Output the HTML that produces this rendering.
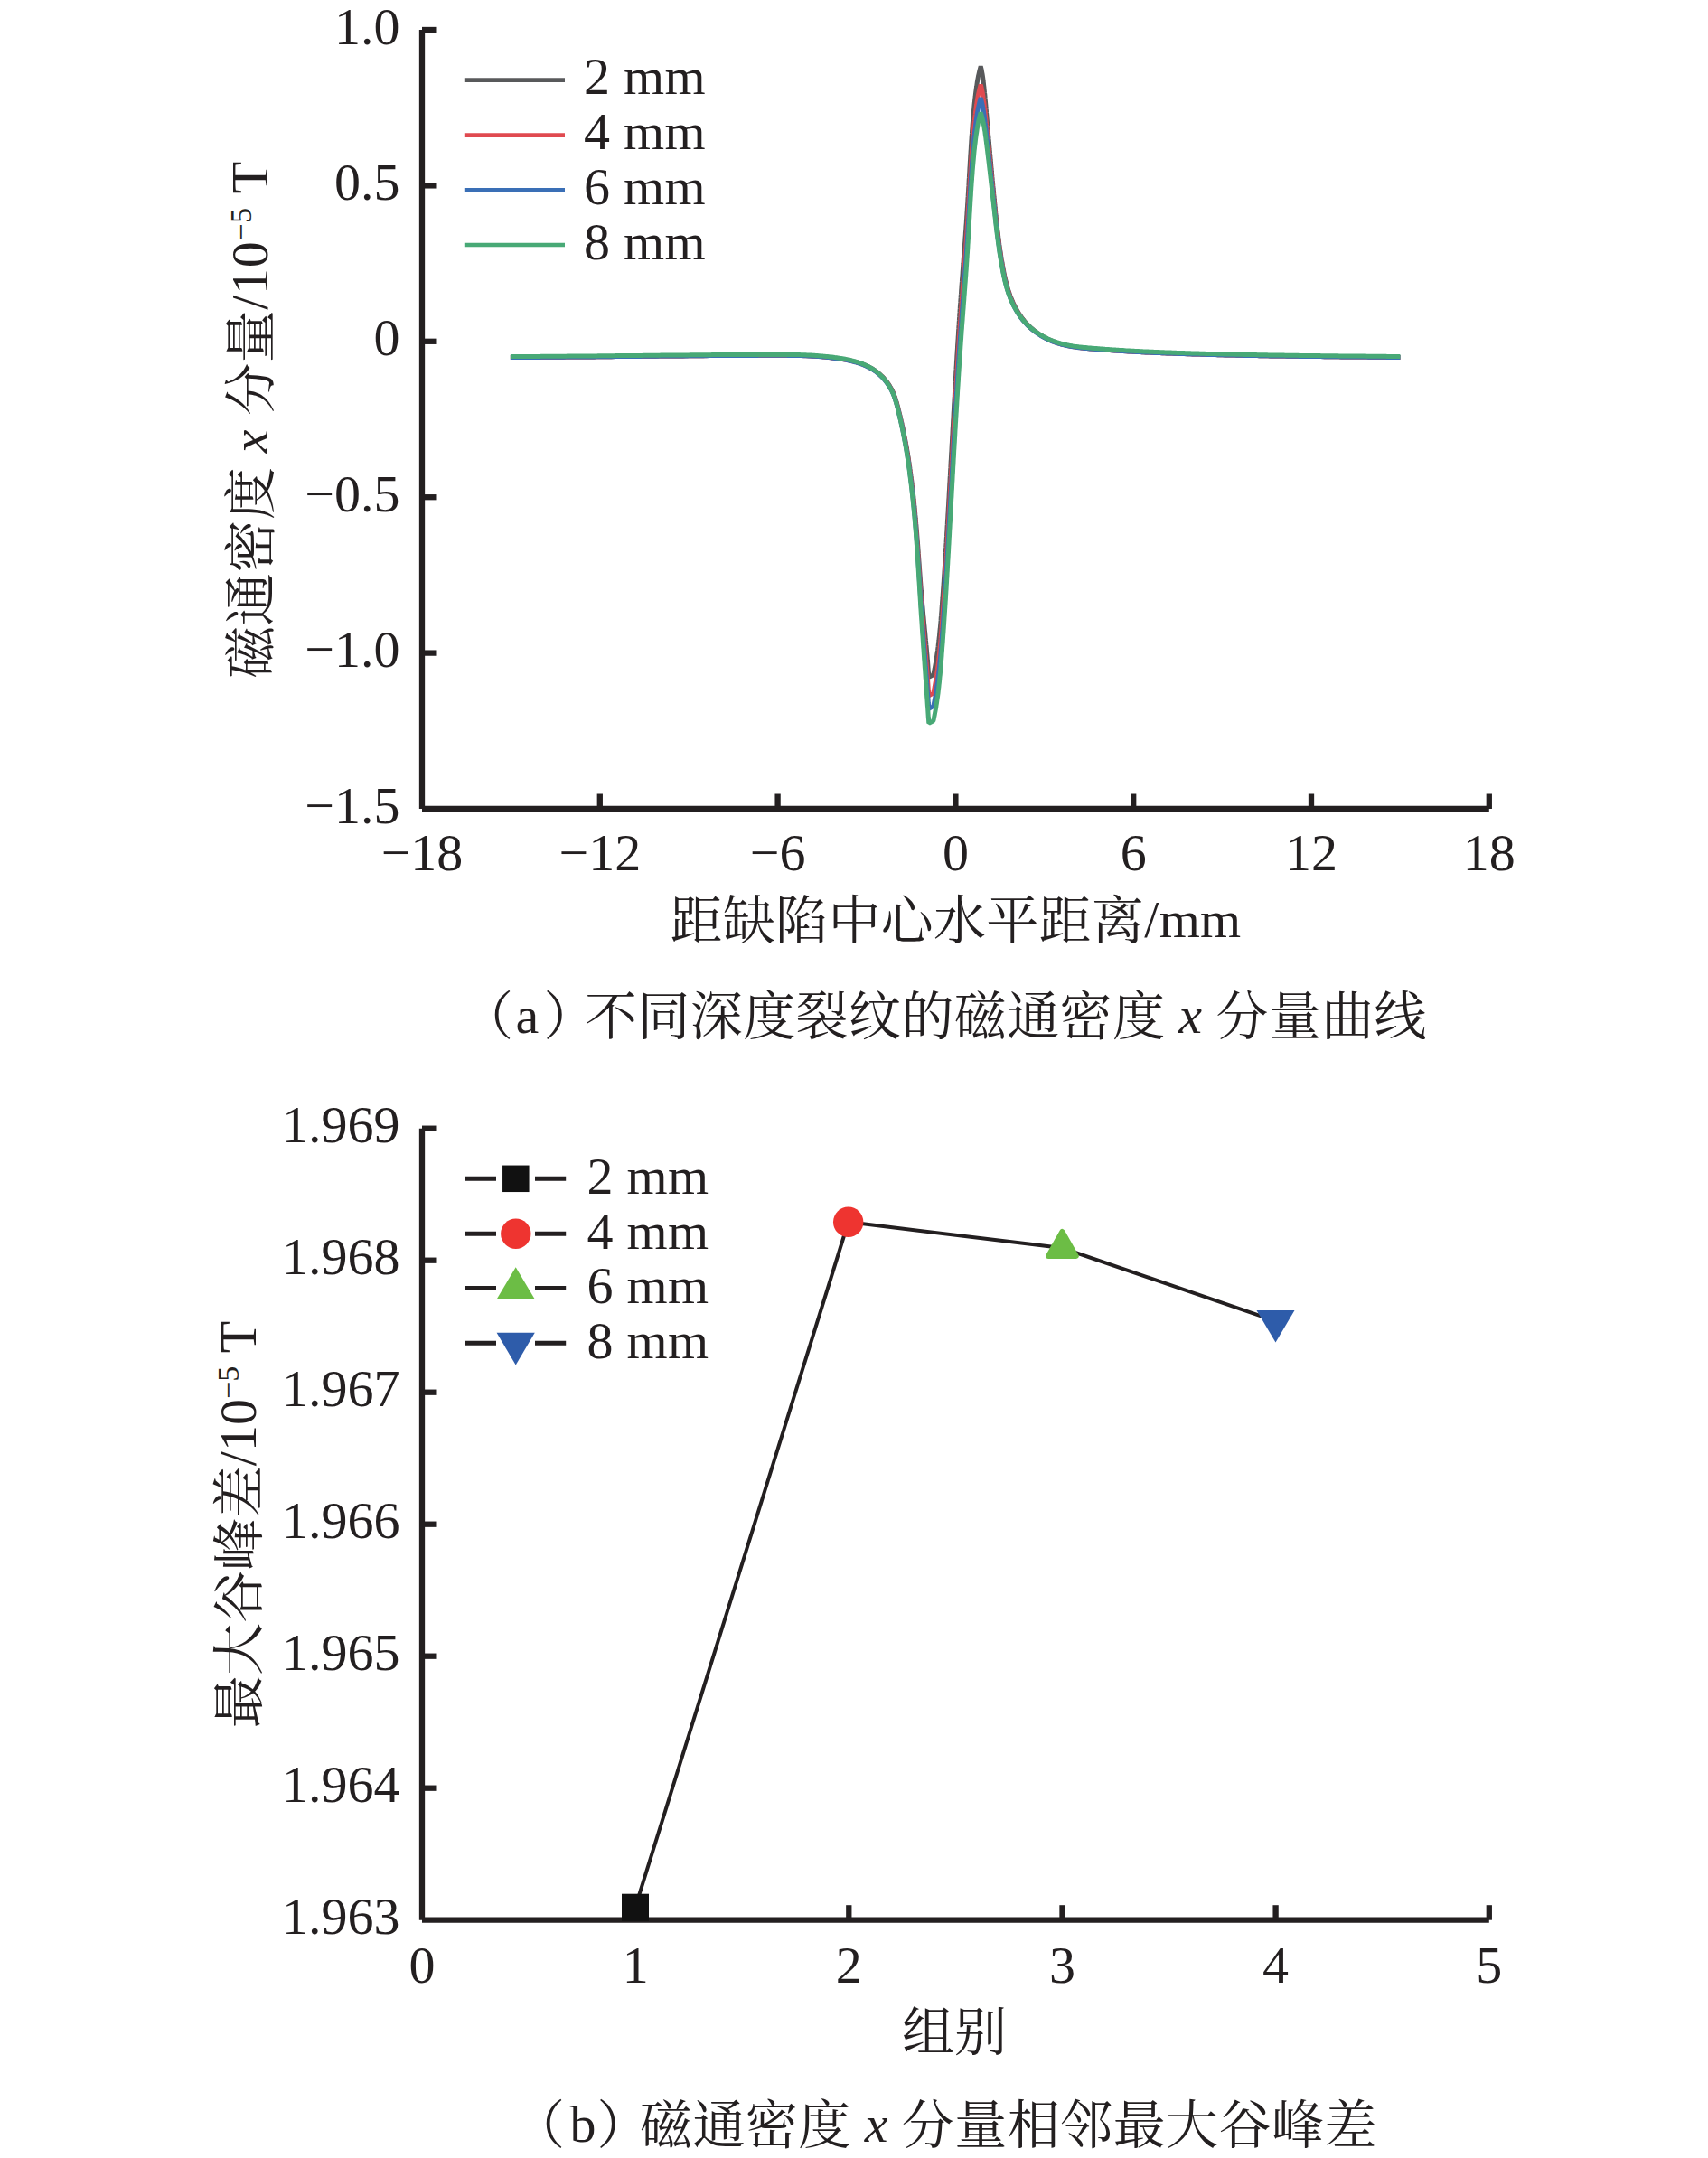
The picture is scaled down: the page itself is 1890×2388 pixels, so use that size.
<!DOCTYPE html>
<html lang="zh"><head><meta charset="utf-8"><title>figure</title><style>html,body{margin:0;padding:0;background:#fff}</style></head><body>
<svg width="1890" height="2388" viewBox="0 0 1890 2388" style="display:block;font-family:'Liberation Serif','Noto Serif CJK SC',serif;font-size:58px" fill="#231f20">
<rect width="1890" height="2388" fill="#fff"/>
<g stroke="#231f20" stroke-width="6.3" fill="none">
<path d="M467.0,33.0 V895.0 M467.0,895.0 H1647.8"/>
<path d="M467.0,33.0 H483.5"/>
<path d="M467.0,205.4 H483.5"/>
<path d="M467.0,377.8 H483.5"/>
<path d="M467.0,550.2 H483.5"/>
<path d="M467.0,722.6 H483.5"/>
<path d="M663.8,895.0 V878.5"/>
<path d="M860.6,895.0 V878.5"/>
<path d="M1057.4,895.0 V878.5"/>
<path d="M1254.2,895.0 V878.5"/>
<path d="M1451.0,895.0 V878.5"/>
<path d="M1647.8,895.0 V878.5"/>
</g>
<g fill="none" stroke-width="5" stroke-linejoin="bevel">
<polyline stroke="#58595b" points="564.9,395.5 566.5,395.5 568.1,395.5 569.7,395.5 571.4,395.5 573.0,395.5 574.6,395.4 576.2,395.4 577.8,395.4 579.4,395.4 581.1,395.4 582.7,395.4 584.3,395.4 585.9,395.4 587.5,395.4 589.1,395.4 590.7,395.4 592.4,395.4 594.0,395.4 595.6,395.3 597.2,395.3 598.8,395.3 600.4,395.3 602.1,395.3 603.7,395.3 605.3,395.3 606.9,395.3 608.5,395.3 610.1,395.3 611.8,395.2 613.4,395.2 615.0,395.2 616.6,395.2 618.2,395.2 619.8,395.2 621.5,395.2 623.1,395.2 624.7,395.1 626.3,395.1 627.9,395.1 629.5,395.1 631.2,395.1 632.8,395.1 634.4,395.1 636.0,395.0 637.6,395.0 639.2,395.0 640.9,395.0 642.5,395.0 644.1,395.0 645.7,395.0 647.3,394.9 648.9,394.9 650.6,394.9 652.2,394.9 653.8,394.9 655.4,394.9 657.0,394.9 658.7,394.8 660.3,394.8 661.9,394.8 663.5,394.8 665.1,394.8 666.7,394.8 668.4,394.7 670.0,394.7 671.6,394.7 673.2,394.7 674.8,394.7 676.4,394.7 678.1,394.6 679.7,394.6 681.3,394.6 682.9,394.6 684.5,394.6 686.2,394.6 687.8,394.5 689.4,394.5 691.0,394.5 692.6,394.5 694.2,394.5 695.9,394.5 697.5,394.4 699.1,394.4 700.7,394.4 702.3,394.4 703.9,394.4 705.6,394.4 707.2,394.3 708.8,394.3 710.4,394.3 712.0,394.3 713.7,394.3 715.3,394.3 716.9,394.2 718.5,394.2 720.1,394.2 721.7,394.2 723.4,394.2 725.0,394.2 726.6,394.1 728.2,394.1 729.8,394.1 731.4,394.1 733.1,394.1 734.7,394.1 736.3,394.0 737.9,394.0 739.5,394.0 741.2,394.0 742.8,394.0 744.4,394.0 746.0,393.9 747.6,393.9 749.2,393.9 750.9,393.9 752.5,393.9 754.1,393.9 755.7,393.9 757.3,393.8 758.9,393.8 760.6,393.8 762.2,393.8 763.8,393.8 765.4,393.8 767.0,393.8 768.6,393.7 770.3,393.7 771.9,393.7 773.5,393.7 775.1,393.7 776.7,393.7 778.3,393.7 780.0,393.6 781.6,393.6 783.2,393.6 784.8,393.6 786.4,393.6 788.0,393.6 789.7,393.6 791.3,393.6 792.9,393.5 794.5,393.5 796.1,393.5 797.7,393.5 799.4,393.5 801.0,393.5 802.6,393.5 804.2,393.5 805.8,393.4 807.4,393.4 809.0,393.4 810.7,393.4 812.3,393.4 813.9,393.4 815.5,393.4 817.1,393.4 818.7,393.4 820.4,393.4 822.0,393.3 823.6,393.3 825.2,393.3 826.8,393.3 828.4,393.3 830.0,393.3 831.7,393.3 833.3,393.3 834.9,393.3 836.5,393.3 838.1,393.3 839.7,393.3 841.3,393.3 843.0,393.3 844.6,393.3 846.2,393.2 847.8,393.2 849.4,393.2 851.0,393.2 852.6,393.2 854.3,393.2 855.9,393.2 857.5,393.2 859.1,393.2 860.7,393.2 862.3,393.2 863.9,393.2 865.5,393.2 867.2,393.2 868.8,393.2 870.4,393.2 872.0,393.2 873.6,393.3 875.2,393.3 876.8,393.3 878.5,393.3 880.1,393.3 881.7,393.4 883.3,393.4 884.9,393.4 886.5,393.5 888.1,393.5 889.8,393.6 891.4,393.6 893.0,393.7 894.6,393.7 896.2,393.8 897.8,393.9 899.4,394.0 901.1,394.1 902.7,394.2 904.3,394.3 905.9,394.4 907.5,394.5 909.2,394.6 910.8,394.8 912.4,394.9 914.0,395.0 915.6,395.2 917.3,395.4 918.9,395.5 920.5,395.7 922.1,395.9 923.7,396.1 925.4,396.3 927.0,396.5 928.6,396.8 930.2,397.0 931.9,397.3 933.5,397.5 935.1,397.8 936.7,398.1 938.3,398.4 939.9,398.8 941.5,399.1 943.1,399.5 944.6,399.9 946.2,400.3 947.7,400.7 949.3,401.2 950.8,401.6 952.3,402.2 953.8,402.7 955.3,403.2 956.8,403.8 958.2,404.4 959.6,405.1 961.1,405.8 962.4,406.5 963.8,407.2 965.2,408.0 966.5,408.8 967.8,409.7 969.1,410.5 970.4,411.5 971.6,412.4 972.8,413.4 974.0,414.4 975.1,415.5 976.3,416.6 977.4,417.7 978.4,418.9 979.4,420.1 980.4,421.3 981.4,422.5 982.3,423.8 983.2,425.0 984.1,426.3 984.9,427.7 985.7,429.0 986.5,430.4 987.2,431.8 987.8,433.2 988.5,434.6 989.1,436.0 989.6,437.5 990.2,438.9 990.7,440.4 991.1,441.9 991.6,443.3 992.0,444.8 992.5,446.3 992.9,447.8 993.3,449.3 993.7,450.8 994.0,452.3 994.4,453.9 994.8,455.4 995.2,456.9 995.6,458.4 995.9,459.9 996.3,461.4 996.6,462.8 997.0,464.3 997.3,465.8 997.7,467.3 998.0,468.8 998.3,470.3 998.7,471.8 999.0,473.3 999.3,474.8 999.6,476.3 999.9,477.8 1000.2,479.3 1000.5,480.8 1000.8,482.3 1001.1,483.7 1001.4,485.2 1001.7,486.7 1002.0,488.2 1002.3,489.7 1002.5,491.2 1002.8,492.6 1003.1,494.1 1003.3,495.6 1003.6,497.1 1003.8,498.6 1004.1,500.0 1004.3,501.5 1004.6,503.0 1004.8,504.5 1005.1,505.9 1005.3,507.4 1005.5,508.9 1005.7,510.4 1006.0,511.8 1006.2,513.3 1006.4,514.8 1006.6,516.2 1006.8,517.7 1007.0,519.2 1007.2,520.6 1007.4,522.1 1007.6,523.5 1007.8,525.0 1008.0,526.5 1008.2,527.9 1008.4,529.4 1008.6,530.8 1008.8,532.3 1009.0,533.8 1009.1,535.2 1009.3,536.7 1009.5,538.1 1009.7,539.6 1009.8,541.0 1010.0,542.5 1010.2,543.9 1010.3,545.4 1010.5,546.8 1010.7,548.3 1010.8,549.7 1011.0,551.1 1011.1,552.6 1011.3,554.0 1011.4,555.5 1011.6,556.9 1011.7,558.3 1011.9,559.8 1012.0,561.2 1012.2,562.7 1012.3,564.1 1012.4,565.5 1012.6,567.0 1012.7,568.4 1012.8,569.8 1013.0,571.3 1013.1,572.7 1013.2,574.1 1013.4,575.5 1013.5,577.0 1013.6,578.4 1013.7,579.8 1013.9,581.2 1014.0,582.7 1014.1,584.1 1014.2,585.5 1014.3,586.9 1014.5,588.3 1014.6,589.8 1014.7,591.2 1014.8,592.6 1014.9,594.0 1015.0,595.4 1015.1,596.8 1015.2,598.2 1015.4,599.6 1015.5,601.1 1015.6,602.5 1015.7,603.9 1015.8,605.3 1015.9,606.7 1016.0,608.1 1016.1,609.5 1016.2,610.9 1016.3,612.3 1016.4,613.6 1016.5,615.0 1016.6,616.4 1016.7,617.8 1016.8,619.2 1016.9,620.6 1017.0,622.0 1017.1,623.3 1017.2,624.7 1017.3,626.1 1017.4,627.5 1017.5,628.8 1017.6,630.2 1017.7,631.5 1017.8,632.9 1017.9,634.3 1018.0,635.6 1018.1,637.0 1018.2,638.3 1018.3,639.6 1018.4,641.0 1018.5,642.3 1018.6,643.6 1018.7,645.0 1018.8,646.3 1018.9,647.6 1019.0,648.9 1019.1,650.2 1019.2,651.5 1019.3,652.8 1019.4,654.1 1019.6,655.4 1019.7,656.7 1019.8,658.0 1019.9,659.2 1020.0,660.5 1020.1,661.8 1020.2,663.0 1020.3,664.3 1020.4,665.5 1020.5,666.8 1020.6,668.0 1020.7,669.3 1020.8,670.5 1021.0,671.7 1021.1,672.9 1021.2,674.2 1021.3,675.4 1021.4,676.6 1021.5,677.8 1021.6,679.0 1021.7,680.2 1021.8,681.4 1022.0,682.6 1022.1,683.8 1022.2,685.0 1022.3,686.2 1022.4,687.3 1022.5,688.5 1022.6,689.7 1022.7,690.9 1022.9,692.1 1023.0,693.3 1023.1,694.4 1023.2,695.6 1023.3,696.8 1023.4,698.0 1023.6,699.2 1023.7,700.4 1023.8,701.6 1023.9,702.8 1024.0,704.0 1024.1,705.2 1024.2,706.4 1024.4,707.6 1024.5,708.9 1024.6,710.1 1024.7,711.3 1024.8,712.6 1024.9,713.8 1025.1,715.1 1025.2,716.4 1025.3,717.7 1025.4,719.0 1025.5,720.3 1025.6,721.6 1025.7,722.9 1025.9,724.3 1026.0,725.6 1026.1,727.0 1026.2,728.4 1026.3,729.8 1026.4,731.2 1026.6,732.6 1026.7,734.1 1026.8,735.5 1026.9,737.0 1027.0,738.5 1027.1,740.0 1027.2,741.5 1027.3,743.1 1027.5,744.6 1027.6,746.2 1027.7,747.8 1027.8,749.4 1032.8,746.8 1033.3,744.6 1033.7,742.4 1034.2,740.1 1034.6,737.9 1035.0,735.7 1035.4,733.5 1035.8,731.2 1036.1,729.0 1036.5,726.8 1036.8,724.5 1037.1,722.3 1037.5,720.1 1037.8,717.8 1038.1,715.6 1038.3,713.4 1038.6,711.1 1038.9,708.9 1039.1,706.6 1039.4,704.4 1039.6,702.1 1039.8,699.9 1040.0,697.6 1040.3,695.4 1040.5,693.1 1040.7,690.9 1040.9,688.6 1041.1,686.4 1041.2,684.1 1041.4,681.9 1041.6,679.6 1041.8,677.4 1042.0,675.1 1042.1,672.8 1042.3,670.6 1042.5,668.3 1042.6,666.1 1042.8,663.8 1043.0,661.6 1043.2,659.3 1043.3,657.1 1043.5,654.8 1043.6,652.6 1043.8,650.3 1044.0,648.0 1044.1,645.8 1044.3,643.5 1044.4,641.3 1044.6,639.0 1044.7,636.8 1044.9,634.5 1045.0,632.3 1045.2,630.0 1045.3,627.7 1045.5,625.5 1045.6,623.2 1045.8,621.0 1045.9,618.7 1046.1,616.5 1046.2,614.2 1046.4,611.9 1046.5,609.7 1046.6,607.4 1046.8,605.2 1046.9,602.9 1047.1,600.7 1047.2,598.4 1047.3,596.2 1047.5,593.9 1047.6,591.6 1047.7,589.4 1047.9,587.1 1048.0,584.9 1048.1,582.6 1048.3,580.4 1048.4,578.1 1048.5,575.8 1048.7,573.6 1048.8,571.3 1048.9,569.1 1049.1,566.8 1049.2,564.6 1049.3,562.3 1049.5,560.1 1049.6,557.8 1049.7,555.5 1049.8,553.3 1050.0,551.0 1050.1,548.8 1050.2,546.5 1050.3,544.3 1050.5,542.0 1050.6,539.7 1050.7,537.5 1050.8,535.2 1051.0,533.0 1051.1,530.7 1051.2,528.5 1051.4,526.2 1051.5,523.9 1051.6,521.7 1051.7,519.4 1051.9,517.2 1052.0,514.9 1052.1,512.7 1052.2,510.4 1052.4,508.1 1052.5,505.9 1052.6,503.6 1052.7,501.4 1052.9,499.1 1053.0,496.9 1053.1,494.6 1053.2,492.3 1053.4,490.1 1053.5,487.8 1053.6,485.6 1053.7,483.3 1053.9,481.1 1054.0,478.8 1054.1,476.6 1054.2,474.3 1054.4,472.0 1054.5,469.8 1054.6,467.5 1054.7,465.3 1054.9,463.0 1055.0,460.8 1055.1,458.5 1055.2,456.2 1055.4,454.0 1055.5,451.7 1055.6,449.5 1055.7,447.2 1055.9,445.0 1056.0,442.7 1056.1,440.4 1056.3,438.2 1056.4,435.9 1056.5,433.7 1056.7,431.4 1056.8,429.2 1056.9,426.9 1057.0,424.6 1057.2,422.4 1057.3,420.1 1057.4,417.9 1057.6,415.6 1057.7,413.4 1057.8,411.1 1058.0,408.9 1058.1,406.6 1058.3,404.3 1058.4,402.1 1058.5,399.8 1058.7,397.6 1058.8,395.3 1058.9,393.1 1059.1,390.8 1059.2,388.5 1059.4,386.3 1059.5,384.0 1059.6,381.8 1059.8,379.5 1059.9,377.3 1060.1,375.0 1060.2,372.8 1060.4,370.5 1060.5,368.2 1060.6,366.0 1060.8,363.7 1060.9,361.5 1061.1,359.2 1061.2,357.0 1061.4,354.7 1061.5,352.5 1061.7,350.2 1061.8,347.9 1062.0,345.7 1062.1,343.4 1062.3,341.2 1062.4,338.9 1062.6,336.7 1062.8,334.4 1062.9,332.2 1063.1,329.9 1063.2,327.6 1063.4,325.4 1063.6,323.1 1063.7,320.9 1063.9,318.6 1064.0,316.4 1064.2,314.1 1064.4,311.9 1064.5,309.6 1064.7,307.4 1064.9,305.1 1065.1,302.8 1065.2,300.6 1065.4,298.3 1065.6,296.1 1065.7,293.8 1065.9,291.6 1066.1,289.3 1066.2,287.1 1066.4,284.8 1066.6,282.6 1066.8,280.3 1066.9,278.0 1067.1,275.8 1067.3,273.5 1067.4,271.3 1067.6,269.0 1067.8,266.8 1067.9,264.5 1068.1,262.3 1068.3,260.0 1068.4,257.8 1068.6,255.5 1068.8,253.3 1068.9,251.0 1069.1,248.7 1069.3,246.5 1069.4,244.2 1069.6,242.0 1069.7,239.7 1069.9,237.5 1070.0,235.2 1070.2,233.0 1070.3,230.7 1070.5,228.5 1070.6,226.2 1070.8,223.9 1070.9,221.7 1071.0,219.4 1071.2,217.2 1071.3,214.9 1071.5,212.7 1071.6,210.4 1071.7,208.2 1071.9,205.9 1072.0,203.6 1072.1,201.4 1072.2,199.1 1072.4,196.9 1072.5,194.6 1072.6,192.4 1072.8,190.1 1072.9,187.8 1073.0,185.6 1073.2,183.3 1073.3,181.1 1073.4,178.8 1073.6,176.6 1073.7,174.3 1073.8,172.1 1074.0,169.8 1074.1,167.5 1074.3,165.3 1074.4,163.0 1074.5,160.8 1074.7,158.5 1074.8,156.3 1075.0,154.0 1075.1,151.7 1075.3,149.5 1075.5,147.2 1075.6,145.0 1075.8,142.7 1076.0,140.5 1076.1,138.2 1076.3,136.0 1076.5,133.7 1076.7,131.4 1076.9,129.2 1077.1,126.9 1077.3,124.7 1077.5,122.4 1077.7,120.2 1077.9,117.9 1078.1,115.7 1078.4,113.4 1078.6,111.2 1078.9,108.9 1079.2,106.7 1079.4,104.5 1079.7,102.2 1080.0,100.0 1080.3,97.7 1080.7,95.5 1081.0,93.3 1081.3,91.0 1081.7,88.8 1082.1,86.6 1082.5,84.4 1083.0,82.2 1083.5,80.0 1084.0,77.8 1084.6,75.6 1085.2,73.4 1085.6,74.8 1086.0,76.3 1086.3,78.0 1086.6,79.8 1087.0,81.7 1087.3,83.7 1087.6,85.7 1087.9,87.8 1088.1,89.9 1088.4,92.1 1088.6,94.2 1088.9,96.3 1089.1,98.4 1089.3,100.5 1089.5,102.6 1089.8,104.7 1090.0,106.7 1090.1,108.7 1090.3,110.7 1090.5,112.7 1090.7,114.7 1090.9,116.7 1091.0,118.6 1091.2,120.6 1091.4,122.5 1091.5,124.4 1091.7,126.3 1091.9,128.2 1092.0,130.1 1092.2,132.0 1092.4,133.9 1092.5,135.8 1092.7,137.7 1092.8,139.5 1093.0,141.4 1093.2,143.2 1093.3,145.0 1093.5,146.9 1093.6,148.7 1093.8,150.5 1094.0,152.3 1094.1,154.0 1094.3,155.8 1094.4,157.6 1094.6,159.3 1094.7,161.1 1094.9,162.8 1095.0,164.6 1095.2,166.3 1095.4,168.0 1095.5,169.7 1095.7,171.4 1095.8,173.1 1096.0,174.8 1096.1,176.4 1096.3,178.1 1096.4,179.8 1096.6,181.4 1096.7,183.1 1096.9,184.7 1097.0,186.3 1097.2,188.0 1097.3,189.6 1097.5,191.2 1097.6,192.8 1097.8,194.4 1097.9,196.0 1098.1,197.6 1098.2,199.2 1098.4,200.8 1098.5,202.3 1098.7,203.9 1098.8,205.5 1099.0,207.0 1099.1,208.6 1099.3,210.1 1099.4,211.7 1099.6,213.2 1099.7,214.7 1099.9,216.3 1100.0,217.8 1100.2,219.3 1100.3,220.8 1100.5,222.4 1100.6,223.9 1100.8,225.4 1100.9,226.9 1101.1,228.4 1101.2,229.9 1101.4,231.4 1101.5,232.9 1101.7,234.4 1101.8,235.8 1102.0,237.3 1102.1,238.8 1102.3,240.3 1102.4,241.8 1102.6,243.3 1102.8,244.7 1102.9,246.2 1103.1,247.7 1103.2,249.1 1103.4,250.6 1103.6,252.1 1103.7,253.5 1103.9,255.0 1104.1,256.5 1104.3,257.9 1104.4,259.4 1104.6,260.8 1104.8,262.3 1105.0,263.7 1105.2,265.2 1105.4,266.6 1105.5,268.1 1105.7,269.5 1105.9,271.0 1106.1,272.4 1106.3,273.8 1106.5,275.3 1106.7,276.7 1107.0,278.2 1107.2,279.6 1107.4,281.0 1107.6,282.5 1107.8,283.9 1108.1,285.3 1108.3,286.8 1108.5,288.2 1108.8,289.6 1109.0,291.0 1109.3,292.5 1109.5,293.9 1109.8,295.3 1110.0,296.7 1110.3,298.1 1110.6,299.5 1110.8,301.0 1111.1,302.4 1111.4,303.8 1111.7,305.2 1112.0,306.6 1112.3,308.0 1112.6,309.4 1113.0,310.8 1113.3,312.2 1113.7,313.6 1114.0,315.0 1114.4,316.4 1114.8,317.7 1115.2,319.1 1115.6,320.5 1116.0,321.9 1116.5,323.2 1117.0,324.6 1117.4,325.9 1117.9,327.3 1118.4,328.6 1119.0,330.0 1119.5,331.3 1120.1,332.6 1120.6,333.9 1121.2,335.2 1121.8,336.5 1122.4,337.8 1123.1,339.0 1123.7,340.3 1124.4,341.5 1125.1,342.7 1125.8,344.0 1126.5,345.2 1127.2,346.3 1128.0,347.5 1128.7,348.7 1129.5,349.8 1130.3,350.9 1131.1,352.0 1132.0,353.1 1132.8,354.2 1133.7,355.3 1134.6,356.3 1135.5,357.3 1136.4,358.3 1137.3,359.3 1138.3,360.3 1139.3,361.2 1140.2,362.1 1141.2,363.0 1142.3,363.9 1143.3,364.8 1144.3,365.6 1145.4,366.5 1146.5,367.3 1147.6,368.1 1148.7,368.8 1149.8,369.6 1150.9,370.3 1152.0,371.0 1153.2,371.7 1154.4,372.4 1155.5,373.1 1156.7,373.7 1157.9,374.3 1159.1,374.9 1160.3,375.5 1161.5,376.1 1162.7,376.6 1164.0,377.1 1165.2,377.6 1166.4,378.1 1167.7,378.6 1169.0,379.0 1170.2,379.4 1171.5,379.8 1172.8,380.2 1174.0,380.6 1175.3,381.0 1176.6,381.3 1177.9,381.6 1179.2,381.9 1180.5,382.2 1181.8,382.5 1183.1,382.7 1184.4,383.0 1185.7,383.2 1187.0,383.5 1188.3,383.7 1189.7,383.9 1191.0,384.1 1192.3,384.2 1193.6,384.4 1194.9,384.6 1196.3,384.7 1197.6,384.9 1198.9,385.0 1200.3,385.2 1201.6,385.3 1202.9,385.4 1204.2,385.6 1205.6,385.7 1206.9,385.8 1208.2,385.9 1209.6,386.0 1210.9,386.1 1212.2,386.2 1213.6,386.4 1214.9,386.5 1216.2,386.6 1217.5,386.7 1218.9,386.8 1220.2,386.9 1221.5,387.0 1222.8,387.1 1224.2,387.2 1225.5,387.3 1226.8,387.4 1228.1,387.5 1229.5,387.6 1230.8,387.7 1232.1,387.8 1233.4,387.9 1234.7,387.9 1236.1,388.0 1237.4,388.1 1238.7,388.2 1240.0,388.3 1241.4,388.4 1242.7,388.5 1244.0,388.6 1245.3,388.6 1246.7,388.7 1248.0,388.8 1249.3,388.9 1250.6,388.9 1252.0,389.0 1253.3,389.1 1254.6,389.2 1255.9,389.2 1257.3,389.3 1258.6,389.4 1259.9,389.5 1261.2,389.5 1262.6,389.6 1263.9,389.7 1265.2,389.7 1266.5,389.8 1267.9,389.9 1269.2,389.9 1270.5,390.0 1271.8,390.0 1273.2,390.1 1274.5,390.2 1275.8,390.2 1277.1,390.3 1278.5,390.3 1279.8,390.4 1281.1,390.5 1282.5,390.5 1283.8,390.6 1285.1,390.6 1286.4,390.7 1287.8,390.7 1289.1,390.8 1290.4,390.8 1291.7,390.9 1293.1,390.9 1294.4,391.0 1295.7,391.0 1297.1,391.1 1298.4,391.1 1299.7,391.2 1301.0,391.2 1302.4,391.3 1303.7,391.3 1305.0,391.4 1306.4,391.4 1307.7,391.5 1309.0,391.5 1310.3,391.6 1311.7,391.6 1313.0,391.6 1314.3,391.7 1315.6,391.7 1317.0,391.8 1318.3,391.8 1319.6,391.9 1321.0,391.9 1322.3,391.9 1323.6,392.0 1324.9,392.0 1326.3,392.1 1327.6,392.1 1328.9,392.1 1330.3,392.2 1331.6,392.2 1332.9,392.3 1334.2,392.3 1335.6,392.3 1336.9,392.4 1338.2,392.4 1339.5,392.4 1340.9,392.5 1342.2,392.5 1343.5,392.5 1344.9,392.6 1346.2,392.6 1347.5,392.7 1348.8,392.7 1350.2,392.7 1351.5,392.8 1352.8,392.8 1354.2,392.8 1355.5,392.9 1356.8,392.9 1358.1,392.9 1359.5,392.9 1360.8,393.0 1362.1,393.0 1363.5,393.0 1364.8,393.1 1366.1,393.1 1367.4,393.1 1368.8,393.2 1370.1,393.2 1371.4,393.2 1372.7,393.2 1374.1,393.3 1375.4,393.3 1376.7,393.3 1378.1,393.4 1379.4,393.4 1380.7,393.4 1382.0,393.4 1383.4,393.5 1384.7,393.5 1386.0,393.5 1387.4,393.5 1388.7,393.6 1390.0,393.6 1391.3,393.6 1392.7,393.6 1394.0,393.7 1395.3,393.7 1396.7,393.7 1398.0,393.7 1399.3,393.8 1400.6,393.8 1402.0,393.8 1403.3,393.8 1404.6,393.8 1406.0,393.9 1407.3,393.9 1408.6,393.9 1409.9,393.9 1411.3,394.0 1412.6,394.0 1413.9,394.0 1415.2,394.0 1416.6,394.0 1417.9,394.1 1419.2,394.1 1420.6,394.1 1421.9,394.1 1423.2,394.1 1424.5,394.2 1425.9,394.2 1427.2,394.2 1428.5,394.2 1429.9,394.2 1431.2,394.2 1432.5,394.3 1433.8,394.3 1435.2,394.3 1436.5,394.3 1437.8,394.3 1439.2,394.3 1440.5,394.4 1441.8,394.4 1443.1,394.4 1444.5,394.4 1445.8,394.4 1447.1,394.4 1448.5,394.5 1449.8,394.5 1451.1,394.5 1452.4,394.5 1453.8,394.5 1455.1,394.5 1456.4,394.6 1457.8,394.6 1459.1,394.6 1460.4,394.6 1461.7,394.6 1463.1,394.6 1464.4,394.6 1465.7,394.7 1467.0,394.7 1468.4,394.7 1469.7,394.7 1471.0,394.7 1472.4,394.7 1473.7,394.7 1475.0,394.8 1476.3,394.8 1477.7,394.8 1479.0,394.8 1480.3,394.8 1481.7,394.8 1483.0,394.8 1484.3,394.9 1485.6,394.9 1487.0,394.9 1488.3,394.9 1489.6,394.9 1491.0,394.9 1492.3,394.9 1493.6,395.0 1494.9,395.0 1496.3,395.0 1497.6,395.0 1498.9,395.0 1500.3,395.0 1501.6,395.0 1502.9,395.0 1504.2,395.1 1505.6,395.1 1506.9,395.1 1508.2,395.1 1509.6,395.1 1510.9,395.1 1512.2,395.1 1513.5,395.1 1514.9,395.2 1516.2,395.2 1517.5,395.2 1518.9,395.2 1520.2,395.2 1521.5,395.2 1522.8,395.2 1524.2,395.2 1525.5,395.3 1526.8,395.3 1528.1,395.3 1529.5,395.3 1530.8,395.3 1532.1,395.3 1533.5,395.3 1534.8,395.3 1536.1,395.4 1537.4,395.4 1538.8,395.4 1540.1,395.4 1541.4,395.4 1542.8,395.4 1544.1,395.4 1545.4,395.4 1546.7,395.5 1548.1,395.5 1549.4,395.5"/>
<polyline stroke="#e04a50" points="564.9,395.5 566.5,395.5 568.1,395.5 569.7,395.5 571.4,395.5 573.0,395.5 574.6,395.5 576.2,395.4 577.8,395.4 579.4,395.4 581.1,395.4 582.7,395.4 584.3,395.4 585.9,395.4 587.5,395.4 589.1,395.4 590.7,395.4 592.4,395.4 594.0,395.4 595.6,395.4 597.2,395.3 598.8,395.3 600.4,395.3 602.1,395.3 603.7,395.3 605.3,395.3 606.9,395.3 608.5,395.3 610.1,395.3 611.8,395.2 613.4,395.2 615.0,395.2 616.6,395.2 618.2,395.2 619.8,395.2 621.5,395.2 623.1,395.2 624.7,395.2 626.3,395.1 627.9,395.1 629.5,395.1 631.2,395.1 632.8,395.1 634.4,395.1 636.0,395.1 637.6,395.0 639.2,395.0 640.9,395.0 642.5,395.0 644.1,395.0 645.7,395.0 647.3,395.0 648.9,394.9 650.6,394.9 652.2,394.9 653.8,394.9 655.4,394.9 657.0,394.9 658.7,394.9 660.3,394.8 661.9,394.8 663.5,394.8 665.1,394.8 666.7,394.8 668.4,394.8 670.0,394.7 671.6,394.7 673.2,394.7 674.8,394.7 676.4,394.7 678.1,394.7 679.7,394.6 681.3,394.6 682.9,394.6 684.5,394.6 686.2,394.6 687.8,394.6 689.4,394.5 691.0,394.5 692.6,394.5 694.2,394.5 695.9,394.5 697.5,394.5 699.1,394.4 700.7,394.4 702.3,394.4 703.9,394.4 705.6,394.4 707.2,394.4 708.8,394.3 710.4,394.3 712.0,394.3 713.7,394.3 715.3,394.3 716.9,394.3 718.5,394.2 720.1,394.2 721.7,394.2 723.4,394.2 725.0,394.2 726.6,394.2 728.2,394.1 729.8,394.1 731.4,394.1 733.1,394.1 734.7,394.1 736.3,394.1 737.9,394.0 739.5,394.0 741.2,394.0 742.8,394.0 744.4,394.0 746.0,394.0 747.6,394.0 749.2,393.9 750.9,393.9 752.5,393.9 754.1,393.9 755.7,393.9 757.3,393.9 758.9,393.8 760.6,393.8 762.2,393.8 763.8,393.8 765.4,393.8 767.0,393.8 768.6,393.8 770.3,393.7 771.9,393.7 773.5,393.7 775.1,393.7 776.7,393.7 778.3,393.7 780.0,393.7 781.6,393.7 783.2,393.6 784.8,393.6 786.4,393.6 788.0,393.6 789.7,393.6 791.3,393.6 792.9,393.6 794.5,393.6 796.1,393.5 797.7,393.5 799.4,393.5 801.0,393.5 802.6,393.5 804.2,393.5 805.8,393.5 807.4,393.5 809.0,393.5 810.7,393.5 812.3,393.4 813.9,393.4 815.5,393.4 817.1,393.4 818.7,393.4 820.4,393.4 822.0,393.4 823.6,393.4 825.2,393.4 826.8,393.4 828.4,393.4 830.0,393.4 831.7,393.3 833.3,393.3 834.9,393.3 836.5,393.3 838.1,393.3 839.7,393.3 841.3,393.3 843.0,393.3 844.6,393.3 846.2,393.3 847.8,393.3 849.4,393.3 851.0,393.3 852.6,393.3 854.3,393.3 855.9,393.3 857.5,393.3 859.1,393.3 860.7,393.3 862.3,393.3 863.9,393.3 865.5,393.3 867.2,393.3 868.8,393.3 870.4,393.3 872.0,393.3 873.6,393.3 875.2,393.3 876.8,393.4 878.5,393.4 880.1,393.4 881.7,393.4 883.3,393.5 884.9,393.5 886.5,393.6 888.1,393.6 889.8,393.7 891.4,393.7 893.0,393.8 894.6,393.8 896.2,393.9 897.8,394.0 899.4,394.1 901.1,394.2 902.7,394.3 904.3,394.4 905.9,394.5 907.5,394.6 909.2,394.7 910.8,394.9 912.4,395.0 914.0,395.2 915.6,395.3 917.3,395.5 918.9,395.7 920.5,395.9 922.1,396.1 923.7,396.3 925.4,396.5 927.0,396.7 928.6,396.9 930.2,397.2 931.9,397.4 933.5,397.7 935.1,398.0 936.7,398.3 938.3,398.6 939.9,399.0 941.5,399.3 943.1,399.7 944.6,400.1 946.2,400.5 947.7,401.0 949.3,401.4 950.8,401.9 952.3,402.4 953.8,403.0 955.3,403.6 956.8,404.2 958.2,404.8 959.6,405.4 961.1,406.1 962.4,406.9 963.8,407.6 965.2,408.4 966.5,409.2 967.8,410.1 969.1,411.0 970.4,411.9 971.6,412.9 972.8,413.9 974.0,415.0 975.1,416.1 976.3,417.2 977.4,418.3 978.4,419.5 979.4,420.7 980.4,422.0 981.4,423.2 982.3,424.5 983.2,425.8 984.1,427.2 984.9,428.5 985.7,429.9 986.5,431.3 987.2,432.7 987.8,434.1 988.5,435.6 989.1,437.0 989.6,438.5 990.2,440.0 990.7,441.5 991.1,443.0 991.6,444.5 992.0,446.0 992.5,447.6 992.9,449.1 993.3,450.6 993.7,452.2 994.0,453.7 994.4,455.2 994.8,456.8 995.2,458.3 995.6,459.8 995.9,461.4 996.3,462.9 996.6,464.4 997.0,465.9 997.3,467.5 997.7,469.0 998.0,470.5 998.3,472.1 998.7,473.6 999.0,475.1 999.3,476.7 999.6,478.2 999.9,479.7 1000.2,481.2 1000.5,482.8 1000.8,484.3 1001.1,485.8 1001.4,487.3 1001.7,488.9 1002.0,490.4 1002.3,491.9 1002.5,493.5 1002.8,495.0 1003.1,496.5 1003.3,498.0 1003.6,499.5 1003.8,501.1 1004.1,502.6 1004.3,504.1 1004.6,505.6 1004.8,507.2 1005.1,508.7 1005.3,510.2 1005.5,511.7 1005.7,513.3 1006.0,514.8 1006.2,516.3 1006.4,517.8 1006.6,519.3 1006.8,520.8 1007.0,522.4 1007.2,523.9 1007.4,525.4 1007.6,526.9 1007.8,528.4 1008.0,530.0 1008.2,531.5 1008.4,533.0 1008.6,534.5 1008.8,536.0 1009.0,537.5 1009.1,539.0 1009.3,540.6 1009.5,542.1 1009.7,543.6 1009.8,545.1 1010.0,546.6 1010.2,548.1 1010.3,549.6 1010.5,551.1 1010.7,552.6 1010.8,554.1 1011.0,555.7 1011.1,557.2 1011.3,558.7 1011.4,560.2 1011.6,561.7 1011.7,563.2 1011.9,564.7 1012.0,566.2 1012.2,567.7 1012.3,569.2 1012.4,570.7 1012.6,572.2 1012.7,573.7 1012.8,575.2 1013.0,576.7 1013.1,578.2 1013.2,579.7 1013.4,581.2 1013.5,582.7 1013.6,584.2 1013.7,585.7 1013.9,587.2 1014.0,588.7 1014.1,590.2 1014.2,591.7 1014.3,593.2 1014.5,594.7 1014.6,596.2 1014.7,597.7 1014.8,599.2 1014.9,600.7 1015.0,602.1 1015.1,603.6 1015.2,605.1 1015.4,606.6 1015.5,608.1 1015.6,609.6 1015.7,611.1 1015.8,612.6 1015.9,614.0 1016.0,615.5 1016.1,617.0 1016.2,618.5 1016.3,620.0 1016.4,621.5 1016.5,622.9 1016.6,624.4 1016.7,625.9 1016.8,627.4 1016.9,628.8 1017.0,630.3 1017.1,631.8 1017.2,633.2 1017.3,634.7 1017.4,636.2 1017.5,637.6 1017.6,639.1 1017.7,640.6 1017.8,642.0 1017.9,643.5 1018.0,644.9 1018.1,646.4 1018.2,647.8 1018.3,649.3 1018.4,650.7 1018.5,652.2 1018.6,653.6 1018.7,655.0 1018.8,656.5 1018.9,657.9 1019.0,659.3 1019.1,660.8 1019.2,662.2 1019.3,663.6 1019.4,665.0 1019.6,666.4 1019.7,667.9 1019.8,669.3 1019.9,670.7 1020.0,672.1 1020.1,673.5 1020.2,674.9 1020.3,676.3 1020.4,677.7 1020.5,679.0 1020.6,680.4 1020.7,681.8 1020.8,683.2 1021.0,684.6 1021.1,685.9 1021.2,687.3 1021.3,688.7 1021.4,690.1 1021.5,691.4 1021.6,692.8 1021.7,694.1 1021.8,695.5 1022.0,696.9 1022.1,698.2 1022.2,699.6 1022.3,700.9 1022.4,702.3 1022.5,703.6 1022.6,705.0 1022.7,706.3 1022.9,707.7 1023.0,709.0 1023.1,710.4 1023.2,711.7 1023.3,713.1 1023.4,714.4 1023.6,715.8 1023.7,717.2 1023.8,718.5 1023.9,719.9 1024.0,721.2 1024.1,722.6 1024.2,724.0 1024.4,725.4 1024.5,726.7 1024.6,728.1 1024.7,729.5 1024.8,730.9 1024.9,732.3 1025.1,733.7 1025.2,735.1 1025.3,736.5 1025.4,737.9 1025.5,739.4 1025.6,740.8 1025.7,742.2 1025.9,743.7 1026.0,745.1 1026.1,746.6 1026.2,748.1 1026.3,749.6 1026.4,751.0 1026.6,752.5 1026.7,754.1 1026.8,755.6 1026.9,757.1 1027.0,758.6 1027.1,760.2 1027.2,761.8 1027.3,763.3 1027.5,764.9 1027.6,766.5 1027.7,768.1 1027.8,769.7 1032.8,767.1 1033.3,764.9 1033.7,762.7 1034.2,760.4 1034.6,758.2 1035.0,756.0 1035.4,753.8 1035.8,751.5 1036.1,749.3 1036.5,747.1 1036.8,744.8 1037.1,742.6 1037.5,740.4 1037.8,738.1 1038.1,735.9 1038.3,733.7 1038.6,731.4 1038.9,729.2 1039.1,726.9 1039.4,724.7 1039.6,722.4 1039.8,720.2 1040.0,717.9 1040.3,715.7 1040.5,713.4 1040.7,711.2 1040.9,708.9 1041.1,706.7 1041.2,704.4 1041.4,702.2 1041.6,699.9 1041.8,697.7 1042.0,695.4 1042.1,693.1 1042.3,690.9 1042.5,688.6 1042.6,686.4 1042.8,684.1 1043.0,681.9 1043.2,679.6 1043.3,677.4 1043.5,675.1 1043.6,672.9 1043.8,670.6 1044.0,668.3 1044.1,666.1 1044.3,663.8 1044.4,661.6 1044.6,659.3 1044.7,657.1 1044.9,654.8 1045.0,652.6 1045.2,650.3 1045.3,648.0 1045.5,645.8 1045.6,643.5 1045.8,641.3 1045.9,639.0 1046.1,636.8 1046.2,634.5 1046.4,632.2 1046.5,630.0 1046.6,627.7 1046.8,625.5 1046.9,623.2 1047.1,621.0 1047.2,618.7 1047.3,616.5 1047.5,614.2 1047.6,611.9 1047.7,609.7 1047.9,607.4 1048.0,605.2 1048.1,602.9 1048.3,600.7 1048.4,598.4 1048.5,596.1 1048.7,593.9 1048.8,591.6 1048.9,589.4 1049.1,587.1 1049.2,584.9 1049.3,582.6 1049.5,580.4 1049.6,578.1 1049.7,575.8 1049.8,573.6 1050.0,571.3 1050.1,569.1 1050.2,566.8 1050.3,564.6 1050.5,562.3 1050.6,560.0 1050.7,557.8 1050.8,555.5 1051.0,553.3 1051.1,551.0 1051.2,548.8 1051.4,546.5 1051.5,544.2 1051.6,542.0 1051.7,539.7 1051.9,537.5 1052.0,535.2 1052.1,533.0 1052.2,530.7 1052.4,528.4 1052.5,526.2 1052.6,523.9 1052.7,521.7 1052.9,519.4 1053.0,517.2 1053.1,514.9 1053.2,512.6 1053.4,510.4 1053.5,508.1 1053.6,505.9 1053.7,503.6 1053.9,501.4 1054.0,499.1 1054.1,496.9 1054.2,494.6 1054.4,492.3 1054.5,490.1 1054.6,487.8 1054.7,485.6 1054.9,483.3 1055.0,481.1 1055.1,478.8 1055.2,476.5 1055.4,474.3 1055.5,472.0 1055.6,469.8 1055.7,467.5 1055.9,465.3 1056.0,463.0 1056.1,460.7 1056.3,458.5 1056.4,456.2 1056.5,454.0 1056.7,451.7 1056.8,449.5 1056.9,447.2 1057.0,444.9 1057.2,442.7 1057.3,440.4 1057.4,438.2 1057.6,435.9 1057.7,433.7 1057.8,431.4 1058.0,429.2 1058.1,426.9 1058.3,424.6 1058.4,422.4 1058.5,420.1 1058.7,417.9 1058.8,415.6 1058.9,413.4 1059.1,411.1 1059.2,408.8 1059.4,406.6 1059.5,404.3 1059.6,402.1 1059.8,399.8 1059.9,397.6 1060.1,395.3 1060.2,393.1 1060.4,390.8 1060.5,388.5 1060.6,386.3 1060.8,384.0 1060.9,381.8 1061.1,379.5 1061.2,377.3 1061.4,375.0 1061.5,372.8 1061.7,370.5 1061.8,368.2 1062.0,366.0 1062.1,363.7 1062.3,361.5 1062.4,359.2 1062.6,357.0 1062.8,354.7 1062.9,352.5 1063.1,350.2 1063.2,347.9 1063.4,345.7 1063.6,343.4 1063.7,341.2 1063.9,338.9 1064.0,336.7 1064.2,334.4 1064.4,332.2 1064.5,329.9 1064.7,327.7 1064.9,325.4 1065.1,323.1 1065.2,320.9 1065.4,318.6 1065.6,316.4 1065.7,314.1 1065.9,311.9 1066.1,309.6 1066.2,307.4 1066.4,305.1 1066.6,302.9 1066.8,300.6 1066.9,298.3 1067.1,296.1 1067.3,293.8 1067.4,291.6 1067.6,289.3 1067.8,287.1 1067.9,284.8 1068.1,282.6 1068.3,280.3 1068.4,278.1 1068.6,275.8 1068.8,273.6 1068.9,271.3 1069.1,269.0 1069.3,266.8 1069.4,264.5 1069.6,262.3 1069.7,260.0 1069.9,257.8 1070.0,255.5 1070.2,253.3 1070.3,251.0 1070.5,248.8 1070.6,246.5 1070.8,244.2 1070.9,242.0 1071.0,239.7 1071.2,237.5 1071.3,235.2 1071.5,233.0 1071.6,230.7 1071.7,228.5 1071.9,226.2 1072.0,223.9 1072.1,221.7 1072.2,219.4 1072.4,217.2 1072.5,214.9 1072.6,212.7 1072.8,210.4 1072.9,208.1 1073.0,205.9 1073.2,203.6 1073.3,201.4 1073.4,199.1 1073.6,196.9 1073.7,194.6 1073.8,192.4 1074.0,190.1 1074.1,187.8 1074.3,185.6 1074.4,183.3 1074.5,181.1 1074.7,178.8 1074.8,176.6 1075.0,174.3 1075.1,172.0 1075.3,169.8 1075.5,167.5 1075.6,165.3 1075.8,163.0 1076.0,160.8 1076.1,158.5 1076.3,156.3 1076.5,154.0 1076.7,151.7 1076.9,149.5 1077.1,147.2 1077.3,145.0 1077.5,142.7 1077.7,140.5 1077.9,138.2 1078.1,136.0 1078.4,133.7 1078.6,131.5 1078.9,129.2 1079.2,127.0 1079.4,124.8 1079.7,122.5 1080.0,120.3 1080.3,118.0 1080.7,115.8 1081.0,113.6 1081.3,111.3 1081.7,109.1 1082.1,106.9 1082.5,104.7 1083.0,102.5 1083.5,100.3 1084.0,98.1 1084.6,95.9 1085.2,93.7 1085.6,95.0 1086.0,96.5 1086.3,98.0 1086.6,99.6 1087.0,101.3 1087.3,103.0 1087.6,104.7 1087.9,106.5 1088.1,108.3 1088.4,110.1 1088.6,111.9 1088.9,113.7 1089.1,115.5 1089.3,117.3 1089.5,119.1 1089.8,120.8 1090.0,122.6 1090.1,124.3 1090.3,126.1 1090.5,127.8 1090.7,129.5 1090.9,131.2 1091.0,132.9 1091.2,134.6 1091.4,136.3 1091.5,138.0 1091.7,139.7 1091.9,141.4 1092.0,143.0 1092.2,144.7 1092.4,146.4 1092.5,148.0 1092.7,149.7 1092.8,151.3 1093.0,153.0 1093.2,154.6 1093.3,156.2 1093.5,157.9 1093.6,159.5 1093.8,161.1 1094.0,162.7 1094.1,164.3 1094.3,165.9 1094.4,167.5 1094.6,169.1 1094.7,170.6 1094.9,172.2 1095.0,173.8 1095.2,175.4 1095.4,176.9 1095.5,178.5 1095.7,180.0 1095.8,181.6 1096.0,183.1 1096.1,184.7 1096.3,186.2 1096.4,187.7 1096.6,189.2 1096.7,190.8 1096.9,192.3 1097.0,193.8 1097.2,195.3 1097.3,196.8 1097.5,198.3 1097.6,199.8 1097.8,201.3 1097.9,202.8 1098.1,204.3 1098.2,205.7 1098.4,207.2 1098.5,208.7 1098.7,210.2 1098.8,211.6 1099.0,213.1 1099.1,214.6 1099.3,216.0 1099.4,217.5 1099.6,218.9 1099.7,220.4 1099.9,221.8 1100.0,223.3 1100.2,224.7 1100.3,226.2 1100.5,227.6 1100.6,229.0 1100.8,230.5 1100.9,231.9 1101.1,233.3 1101.2,234.8 1101.4,236.2 1101.5,237.6 1101.7,239.0 1101.8,240.5 1102.0,241.9 1102.1,243.3 1102.3,244.7 1102.4,246.1 1102.6,247.5 1102.8,249.0 1102.9,250.4 1103.1,251.8 1103.2,253.2 1103.4,254.6 1103.6,256.0 1103.7,257.4 1103.9,258.8 1104.1,260.2 1104.3,261.6 1104.4,263.0 1104.6,264.4 1104.8,265.8 1105.0,267.2 1105.2,268.6 1105.4,270.0 1105.5,271.4 1105.7,272.8 1105.9,274.2 1106.1,275.6 1106.3,277.0 1106.5,278.4 1106.7,279.7 1107.0,281.1 1107.2,282.5 1107.4,283.9 1107.6,285.3 1107.8,286.7 1108.1,288.1 1108.3,289.4 1108.5,290.8 1108.8,292.2 1109.0,293.6 1109.3,294.9 1109.5,296.3 1109.8,297.7 1110.0,299.1 1110.3,300.4 1110.6,301.8 1110.8,303.2 1111.1,304.6 1111.4,305.9 1111.7,307.3 1112.0,308.6 1112.3,310.0 1112.6,311.4 1113.0,312.7 1113.3,314.1 1113.7,315.4 1114.0,316.8 1114.4,318.1 1114.8,319.5 1115.2,320.8 1115.6,322.1 1116.0,323.5 1116.5,324.8 1117.0,326.1 1117.4,327.4 1117.9,328.7 1118.4,330.0 1119.0,331.3 1119.5,332.6 1120.1,333.9 1120.6,335.1 1121.2,336.4 1121.8,337.7 1122.4,338.9 1123.1,340.1 1123.7,341.3 1124.4,342.5 1125.1,343.7 1125.8,344.9 1126.5,346.1 1127.2,347.2 1128.0,348.4 1128.7,349.5 1129.5,350.6 1130.3,351.7 1131.1,352.8 1132.0,353.9 1132.8,354.9 1133.7,355.9 1134.6,356.9 1135.5,357.9 1136.4,358.9 1137.3,359.9 1138.3,360.8 1139.3,361.8 1140.2,362.7 1141.2,363.5 1142.3,364.4 1143.3,365.3 1144.3,366.1 1145.4,366.9 1146.5,367.7 1147.6,368.5 1148.7,369.2 1149.8,370.0 1150.9,370.7 1152.0,371.4 1153.2,372.1 1154.4,372.7 1155.5,373.4 1156.7,374.0 1157.9,374.6 1159.1,375.2 1160.3,375.8 1161.5,376.3 1162.7,376.9 1164.0,377.4 1165.2,377.9 1166.4,378.3 1167.7,378.8 1169.0,379.2 1170.2,379.7 1171.5,380.1 1172.8,380.4 1174.0,380.8 1175.3,381.2 1176.6,381.5 1177.9,381.8 1179.2,382.1 1180.5,382.4 1181.8,382.7 1183.1,382.9 1184.4,383.2 1185.7,383.4 1187.0,383.6 1188.3,383.8 1189.7,384.0 1191.0,384.2 1192.3,384.4 1193.6,384.6 1194.9,384.7 1196.3,384.9 1197.6,385.0 1198.9,385.2 1200.3,385.3 1201.6,385.4 1202.9,385.6 1204.2,385.7 1205.6,385.8 1206.9,385.9 1208.2,386.0 1209.6,386.1 1210.9,386.2 1212.2,386.3 1213.6,386.5 1214.9,386.6 1216.2,386.7 1217.5,386.8 1218.9,386.9 1220.2,387.0 1221.5,387.1 1222.8,387.2 1224.2,387.3 1225.5,387.4 1226.8,387.5 1228.1,387.6 1229.5,387.7 1230.8,387.7 1232.1,387.8 1233.4,387.9 1234.7,388.0 1236.1,388.1 1237.4,388.2 1238.7,388.3 1240.0,388.4 1241.4,388.5 1242.7,388.5 1244.0,388.6 1245.3,388.7 1246.7,388.8 1248.0,388.9 1249.3,388.9 1250.6,389.0 1252.0,389.1 1253.3,389.2 1254.6,389.2 1255.9,389.3 1257.3,389.4 1258.6,389.4 1259.9,389.5 1261.2,389.6 1262.6,389.6 1263.9,389.7 1265.2,389.8 1266.5,389.8 1267.9,389.9 1269.2,390.0 1270.5,390.0 1271.8,390.1 1273.2,390.1 1274.5,390.2 1275.8,390.3 1277.1,390.3 1278.5,390.4 1279.8,390.4 1281.1,390.5 1282.5,390.6 1283.8,390.6 1285.1,390.7 1286.4,390.7 1287.8,390.8 1289.1,390.8 1290.4,390.9 1291.7,390.9 1293.1,391.0 1294.4,391.0 1295.7,391.1 1297.1,391.1 1298.4,391.2 1299.7,391.2 1301.0,391.3 1302.4,391.3 1303.7,391.4 1305.0,391.4 1306.4,391.4 1307.7,391.5 1309.0,391.5 1310.3,391.6 1311.7,391.6 1313.0,391.7 1314.3,391.7 1315.6,391.8 1317.0,391.8 1318.3,391.8 1319.6,391.9 1321.0,391.9 1322.3,392.0 1323.6,392.0 1324.9,392.0 1326.3,392.1 1327.6,392.1 1328.9,392.2 1330.3,392.2 1331.6,392.2 1332.9,392.3 1334.2,392.3 1335.6,392.4 1336.9,392.4 1338.2,392.4 1339.5,392.5 1340.9,392.5 1342.2,392.5 1343.5,392.6 1344.9,392.6 1346.2,392.6 1347.5,392.7 1348.8,392.7 1350.2,392.7 1351.5,392.8 1352.8,392.8 1354.2,392.8 1355.5,392.9 1356.8,392.9 1358.1,392.9 1359.5,393.0 1360.8,393.0 1362.1,393.0 1363.5,393.1 1364.8,393.1 1366.1,393.1 1367.4,393.1 1368.8,393.2 1370.1,393.2 1371.4,393.2 1372.7,393.3 1374.1,393.3 1375.4,393.3 1376.7,393.3 1378.1,393.4 1379.4,393.4 1380.7,393.4 1382.0,393.5 1383.4,393.5 1384.7,393.5 1386.0,393.5 1387.4,393.6 1388.7,393.6 1390.0,393.6 1391.3,393.6 1392.7,393.7 1394.0,393.7 1395.3,393.7 1396.7,393.7 1398.0,393.7 1399.3,393.8 1400.6,393.8 1402.0,393.8 1403.3,393.8 1404.6,393.9 1406.0,393.9 1407.3,393.9 1408.6,393.9 1409.9,393.9 1411.3,394.0 1412.6,394.0 1413.9,394.0 1415.2,394.0 1416.6,394.0 1417.9,394.1 1419.2,394.1 1420.6,394.1 1421.9,394.1 1423.2,394.1 1424.5,394.2 1425.9,394.2 1427.2,394.2 1428.5,394.2 1429.9,394.2 1431.2,394.3 1432.5,394.3 1433.8,394.3 1435.2,394.3 1436.5,394.3 1437.8,394.3 1439.2,394.4 1440.5,394.4 1441.8,394.4 1443.1,394.4 1444.5,394.4 1445.8,394.4 1447.1,394.5 1448.5,394.5 1449.8,394.5 1451.1,394.5 1452.4,394.5 1453.8,394.5 1455.1,394.6 1456.4,394.6 1457.8,394.6 1459.1,394.6 1460.4,394.6 1461.7,394.6 1463.1,394.6 1464.4,394.7 1465.7,394.7 1467.0,394.7 1468.4,394.7 1469.7,394.7 1471.0,394.7 1472.4,394.7 1473.7,394.8 1475.0,394.8 1476.3,394.8 1477.7,394.8 1479.0,394.8 1480.3,394.8 1481.7,394.8 1483.0,394.9 1484.3,394.9 1485.6,394.9 1487.0,394.9 1488.3,394.9 1489.6,394.9 1491.0,394.9 1492.3,394.9 1493.6,395.0 1494.9,395.0 1496.3,395.0 1497.6,395.0 1498.9,395.0 1500.3,395.0 1501.6,395.0 1502.9,395.0 1504.2,395.1 1505.6,395.1 1506.9,395.1 1508.2,395.1 1509.6,395.1 1510.9,395.1 1512.2,395.1 1513.5,395.1 1514.9,395.2 1516.2,395.2 1517.5,395.2 1518.9,395.2 1520.2,395.2 1521.5,395.2 1522.8,395.2 1524.2,395.2 1525.5,395.3 1526.8,395.3 1528.1,395.3 1529.5,395.3 1530.8,395.3 1532.1,395.3 1533.5,395.3 1534.8,395.3 1536.1,395.4 1537.4,395.4 1538.8,395.4 1540.1,395.4 1541.4,395.4 1542.8,395.4 1544.1,395.4 1545.4,395.4 1546.7,395.5 1548.1,395.5 1549.4,395.5"/>
<polyline stroke="#3a6fb6" points="564.9,395.5 566.5,395.5 568.1,395.5 569.7,395.5 571.4,395.5 573.0,395.5 574.6,395.5 576.2,395.5 577.8,395.4 579.4,395.4 581.1,395.4 582.7,395.4 584.3,395.4 585.9,395.4 587.5,395.4 589.1,395.4 590.7,395.4 592.4,395.4 594.0,395.4 595.6,395.4 597.2,395.4 598.8,395.3 600.4,395.3 602.1,395.3 603.7,395.3 605.3,395.3 606.9,395.3 608.5,395.3 610.1,395.3 611.8,395.3 613.4,395.2 615.0,395.2 616.6,395.2 618.2,395.2 619.8,395.2 621.5,395.2 623.1,395.2 624.7,395.2 626.3,395.1 627.9,395.1 629.5,395.1 631.2,395.1 632.8,395.1 634.4,395.1 636.0,395.1 637.6,395.1 639.2,395.0 640.9,395.0 642.5,395.0 644.1,395.0 645.7,395.0 647.3,395.0 648.9,395.0 650.6,394.9 652.2,394.9 653.8,394.9 655.4,394.9 657.0,394.9 658.7,394.9 660.3,394.8 661.9,394.8 663.5,394.8 665.1,394.8 666.7,394.8 668.4,394.8 670.0,394.8 671.6,394.7 673.2,394.7 674.8,394.7 676.4,394.7 678.1,394.7 679.7,394.7 681.3,394.6 682.9,394.6 684.5,394.6 686.2,394.6 687.8,394.6 689.4,394.6 691.0,394.5 692.6,394.5 694.2,394.5 695.9,394.5 697.5,394.5 699.1,394.5 700.7,394.4 702.3,394.4 703.9,394.4 705.6,394.4 707.2,394.4 708.8,394.4 710.4,394.3 712.0,394.3 713.7,394.3 715.3,394.3 716.9,394.3 718.5,394.3 720.1,394.2 721.7,394.2 723.4,394.2 725.0,394.2 726.6,394.2 728.2,394.2 729.8,394.1 731.4,394.1 733.1,394.1 734.7,394.1 736.3,394.1 737.9,394.1 739.5,394.0 741.2,394.0 742.8,394.0 744.4,394.0 746.0,394.0 747.6,394.0 749.2,394.0 750.9,393.9 752.5,393.9 754.1,393.9 755.7,393.9 757.3,393.9 758.9,393.9 760.6,393.9 762.2,393.8 763.8,393.8 765.4,393.8 767.0,393.8 768.6,393.8 770.3,393.8 771.9,393.8 773.5,393.7 775.1,393.7 776.7,393.7 778.3,393.7 780.0,393.7 781.6,393.7 783.2,393.7 784.8,393.6 786.4,393.6 788.0,393.6 789.7,393.6 791.3,393.6 792.9,393.6 794.5,393.6 796.1,393.6 797.7,393.6 799.4,393.5 801.0,393.5 802.6,393.5 804.2,393.5 805.8,393.5 807.4,393.5 809.0,393.5 810.7,393.5 812.3,393.5 813.9,393.5 815.5,393.4 817.1,393.4 818.7,393.4 820.4,393.4 822.0,393.4 823.6,393.4 825.2,393.4 826.8,393.4 828.4,393.4 830.0,393.4 831.7,393.4 833.3,393.4 834.9,393.4 836.5,393.4 838.1,393.4 839.7,393.3 841.3,393.3 843.0,393.3 844.6,393.3 846.2,393.3 847.8,393.3 849.4,393.3 851.0,393.3 852.6,393.3 854.3,393.3 855.9,393.3 857.5,393.3 859.1,393.3 860.7,393.3 862.3,393.3 863.9,393.3 865.5,393.3 867.2,393.3 868.8,393.3 870.4,393.3 872.0,393.4 873.6,393.4 875.2,393.4 876.8,393.4 878.5,393.4 880.1,393.5 881.7,393.5 883.3,393.5 884.9,393.6 886.5,393.6 888.1,393.7 889.8,393.7 891.4,393.8 893.0,393.8 894.6,393.9 896.2,394.0 897.8,394.1 899.4,394.2 901.1,394.2 902.7,394.3 904.3,394.5 905.9,394.6 907.5,394.7 909.2,394.8 910.8,395.0 912.4,395.1 914.0,395.3 915.6,395.4 917.3,395.6 918.9,395.8 920.5,396.0 922.1,396.2 923.7,396.4 925.4,396.6 927.0,396.8 928.6,397.0 930.2,397.3 931.9,397.6 933.5,397.8 935.1,398.1 936.7,398.4 938.3,398.8 939.9,399.1 941.5,399.5 943.1,399.9 944.6,400.3 946.2,400.7 947.7,401.1 949.3,401.6 950.8,402.1 952.3,402.6 953.8,403.2 955.3,403.8 956.8,404.4 958.2,405.0 959.6,405.7 961.1,406.4 962.4,407.1 963.8,407.9 965.2,408.7 966.5,409.5 967.8,410.4 969.1,411.3 970.4,412.3 971.6,413.3 972.8,414.3 974.0,415.4 975.1,416.5 976.3,417.6 977.4,418.8 978.4,420.0 979.4,421.2 980.4,422.5 981.4,423.8 982.3,425.1 983.2,426.4 984.1,427.8 984.9,429.1 985.7,430.5 986.5,432.0 987.2,433.4 987.8,434.8 988.5,436.3 989.1,437.8 989.6,439.3 990.2,440.8 990.7,442.3 991.1,443.8 991.6,445.4 992.0,446.9 992.5,448.5 992.9,450.0 993.3,451.6 993.7,453.1 994.0,454.7 994.4,456.2 994.8,457.8 995.2,459.3 995.6,460.9 995.9,462.4 996.3,464.0 996.6,465.5 997.0,467.1 997.3,468.6 997.7,470.2 998.0,471.7 998.3,473.3 998.7,474.9 999.0,476.4 999.3,478.0 999.6,479.5 999.9,481.1 1000.2,482.6 1000.5,484.2 1000.8,485.7 1001.1,487.3 1001.4,488.9 1001.7,490.4 1002.0,492.0 1002.3,493.5 1002.5,495.1 1002.8,496.6 1003.1,498.2 1003.3,499.8 1003.6,501.3 1003.8,502.9 1004.1,504.4 1004.3,506.0 1004.6,507.5 1004.8,509.1 1005.1,510.7 1005.3,512.2 1005.5,513.8 1005.7,515.3 1006.0,516.9 1006.2,518.4 1006.4,520.0 1006.6,521.5 1006.8,523.1 1007.0,524.7 1007.2,526.2 1007.4,527.8 1007.6,529.3 1007.8,530.9 1008.0,532.4 1008.2,534.0 1008.4,535.6 1008.6,537.1 1008.8,538.7 1009.0,540.2 1009.1,541.8 1009.3,543.3 1009.5,544.9 1009.7,546.4 1009.8,548.0 1010.0,549.6 1010.2,551.1 1010.3,552.7 1010.5,554.2 1010.7,555.8 1010.8,557.3 1011.0,558.9 1011.1,560.4 1011.3,562.0 1011.4,563.5 1011.6,565.1 1011.7,566.6 1011.9,568.2 1012.0,569.8 1012.2,571.3 1012.3,572.9 1012.4,574.4 1012.6,576.0 1012.7,577.5 1012.8,579.1 1013.0,580.6 1013.1,582.2 1013.2,583.7 1013.4,585.3 1013.5,586.8 1013.6,588.4 1013.7,589.9 1013.9,591.5 1014.0,593.0 1014.1,594.6 1014.2,596.1 1014.3,597.7 1014.5,599.2 1014.6,600.8 1014.7,602.3 1014.8,603.9 1014.9,605.4 1015.0,607.0 1015.1,608.5 1015.2,610.0 1015.4,611.6 1015.5,613.1 1015.6,614.7 1015.7,616.2 1015.8,617.8 1015.9,619.3 1016.0,620.9 1016.1,622.4 1016.2,623.9 1016.3,625.5 1016.4,627.0 1016.5,628.6 1016.6,630.1 1016.7,631.6 1016.8,633.2 1016.9,634.7 1017.0,636.3 1017.1,637.8 1017.2,639.3 1017.3,640.9 1017.4,642.4 1017.5,643.9 1017.6,645.5 1017.7,647.0 1017.8,648.5 1017.9,650.0 1018.0,651.6 1018.1,653.1 1018.2,654.6 1018.3,656.2 1018.4,657.7 1018.5,659.2 1018.6,660.7 1018.7,662.2 1018.8,663.8 1018.9,665.3 1019.0,666.8 1019.1,668.3 1019.2,669.8 1019.3,671.3 1019.4,672.8 1019.6,674.3 1019.7,675.8 1019.8,677.3 1019.9,678.8 1020.0,680.3 1020.1,681.8 1020.2,683.3 1020.3,684.8 1020.4,686.3 1020.5,687.8 1020.6,689.3 1020.7,690.8 1020.8,692.3 1021.0,693.8 1021.1,695.2 1021.2,696.7 1021.3,698.2 1021.4,699.7 1021.5,701.2 1021.6,702.6 1021.7,704.1 1021.8,705.6 1022.0,707.1 1022.1,708.5 1022.2,710.0 1022.3,711.5 1022.4,712.9 1022.5,714.4 1022.6,715.9 1022.7,717.4 1022.9,718.8 1023.0,720.3 1023.1,721.8 1023.2,723.2 1023.3,724.7 1023.4,726.2 1023.6,727.7 1023.7,729.1 1023.8,730.6 1023.9,732.1 1024.0,733.6 1024.1,735.0 1024.2,736.5 1024.4,738.0 1024.5,739.5 1024.6,741.0 1024.7,742.5 1024.8,744.0 1024.9,745.5 1025.1,747.0 1025.2,748.5 1025.3,750.0 1025.4,751.5 1025.5,753.0 1025.6,754.5 1025.7,756.0 1025.9,757.5 1026.0,759.1 1026.1,760.6 1026.2,762.1 1026.3,763.7 1026.4,765.2 1026.6,766.8 1026.7,768.3 1026.8,769.9 1026.9,771.5 1027.0,773.0 1027.1,774.6 1027.2,776.2 1027.3,777.8 1027.5,779.4 1027.6,781.0 1027.7,782.6 1027.8,784.2 1032.8,781.6 1033.3,779.4 1033.7,777.2 1034.2,774.9 1034.6,772.7 1035.0,770.5 1035.4,768.3 1035.8,766.0 1036.1,763.8 1036.5,761.6 1036.8,759.3 1037.1,757.1 1037.5,754.9 1037.8,752.6 1038.1,750.4 1038.3,748.2 1038.6,745.9 1038.9,743.7 1039.1,741.4 1039.4,739.2 1039.6,736.9 1039.8,734.7 1040.0,732.4 1040.3,730.2 1040.5,727.9 1040.7,725.7 1040.9,723.4 1041.1,721.2 1041.2,718.9 1041.4,716.7 1041.6,714.4 1041.8,712.2 1042.0,709.9 1042.1,707.6 1042.3,705.4 1042.5,703.1 1042.6,700.9 1042.8,698.6 1043.0,696.4 1043.2,694.1 1043.3,691.9 1043.5,689.6 1043.6,687.4 1043.8,685.1 1044.0,682.8 1044.1,680.6 1044.3,678.3 1044.4,676.1 1044.6,673.8 1044.7,671.6 1044.9,669.3 1045.0,667.1 1045.2,664.8 1045.3,662.5 1045.5,660.3 1045.6,658.0 1045.8,655.8 1045.9,653.5 1046.1,651.3 1046.2,649.0 1046.4,646.7 1046.5,644.5 1046.6,642.2 1046.8,640.0 1046.9,637.7 1047.1,635.5 1047.2,633.2 1047.3,631.0 1047.5,628.7 1047.6,626.4 1047.7,624.2 1047.9,621.9 1048.0,619.7 1048.1,617.4 1048.3,615.2 1048.4,612.9 1048.5,610.6 1048.7,608.4 1048.8,606.1 1048.9,603.9 1049.1,601.6 1049.2,599.4 1049.3,597.1 1049.5,594.9 1049.6,592.6 1049.7,590.3 1049.8,588.1 1050.0,585.8 1050.1,583.6 1050.2,581.3 1050.3,579.1 1050.5,576.8 1050.6,574.5 1050.7,572.3 1050.8,570.0 1051.0,567.8 1051.1,565.5 1051.2,563.3 1051.4,561.0 1051.5,558.7 1051.6,556.5 1051.7,554.2 1051.9,552.0 1052.0,549.7 1052.1,547.5 1052.2,545.2 1052.4,542.9 1052.5,540.7 1052.6,538.4 1052.7,536.2 1052.9,533.9 1053.0,531.7 1053.1,529.4 1053.2,527.1 1053.4,524.9 1053.5,522.6 1053.6,520.4 1053.7,518.1 1053.9,515.9 1054.0,513.6 1054.1,511.4 1054.2,509.1 1054.4,506.8 1054.5,504.6 1054.6,502.3 1054.7,500.1 1054.9,497.8 1055.0,495.6 1055.1,493.3 1055.2,491.0 1055.4,488.8 1055.5,486.5 1055.6,484.3 1055.7,482.0 1055.9,479.8 1056.0,477.5 1056.1,475.2 1056.3,473.0 1056.4,470.7 1056.5,468.5 1056.7,466.2 1056.8,464.0 1056.9,461.7 1057.0,459.4 1057.2,457.2 1057.3,454.9 1057.4,452.7 1057.6,450.4 1057.7,448.2 1057.8,445.9 1058.0,443.7 1058.1,441.4 1058.3,439.1 1058.4,436.9 1058.5,434.6 1058.7,432.4 1058.8,430.1 1058.9,427.9 1059.1,425.6 1059.2,423.3 1059.4,421.1 1059.5,418.8 1059.6,416.6 1059.8,414.3 1059.9,412.1 1060.1,409.8 1060.2,407.6 1060.4,405.3 1060.5,403.0 1060.6,400.8 1060.8,398.5 1060.9,396.3 1061.1,394.0 1061.2,391.8 1061.4,389.5 1061.5,387.3 1061.7,385.0 1061.8,382.7 1062.0,380.5 1062.1,378.2 1062.3,376.0 1062.4,373.7 1062.6,371.5 1062.8,369.2 1062.9,367.0 1063.1,364.7 1063.2,362.4 1063.4,360.2 1063.6,357.9 1063.7,355.7 1063.9,353.4 1064.0,351.2 1064.2,348.9 1064.4,346.7 1064.5,344.4 1064.7,342.2 1064.9,339.9 1065.1,337.6 1065.2,335.4 1065.4,333.1 1065.6,330.9 1065.7,328.6 1065.9,326.4 1066.1,324.1 1066.2,321.9 1066.4,319.6 1066.6,317.4 1066.8,315.1 1066.9,312.8 1067.1,310.6 1067.3,308.3 1067.4,306.1 1067.6,303.8 1067.8,301.6 1067.9,299.3 1068.1,297.1 1068.3,294.8 1068.4,292.6 1068.6,290.3 1068.8,288.1 1068.9,285.8 1069.1,283.5 1069.3,281.3 1069.4,279.0 1069.6,276.8 1069.7,274.5 1069.9,272.3 1070.0,270.0 1070.2,267.8 1070.3,265.5 1070.5,263.3 1070.6,261.0 1070.8,258.7 1070.9,256.5 1071.0,254.2 1071.2,252.0 1071.3,249.7 1071.5,247.5 1071.6,245.2 1071.7,243.0 1071.9,240.7 1072.0,238.4 1072.1,236.2 1072.2,233.9 1072.4,231.7 1072.5,229.4 1072.6,227.2 1072.8,224.9 1072.9,222.6 1073.0,220.4 1073.2,218.1 1073.3,215.9 1073.4,213.6 1073.6,211.4 1073.7,209.1 1073.8,206.9 1074.0,204.6 1074.1,202.3 1074.3,200.1 1074.4,197.8 1074.5,195.6 1074.7,193.3 1074.8,191.1 1075.0,188.8 1075.1,186.5 1075.3,184.3 1075.5,182.0 1075.6,179.8 1075.8,177.5 1076.0,175.3 1076.1,173.0 1076.3,170.8 1076.5,168.5 1076.7,166.2 1076.9,164.0 1077.1,161.7 1077.3,159.5 1077.5,157.2 1077.7,155.0 1077.9,152.7 1078.1,150.5 1078.4,148.2 1078.6,146.0 1078.9,143.7 1079.2,141.5 1079.4,139.3 1079.7,137.0 1080.0,134.8 1080.3,132.5 1080.7,130.3 1081.0,128.1 1081.3,125.8 1081.7,123.6 1082.1,121.4 1082.5,119.2 1083.0,117.0 1083.5,114.8 1084.0,112.6 1084.6,110.4 1085.2,108.2 1085.6,109.5 1086.0,110.9 1086.3,112.3 1086.6,113.7 1087.0,115.2 1087.3,116.7 1087.6,118.3 1087.9,119.8 1088.1,121.4 1088.4,123.0 1088.6,124.5 1088.9,126.1 1089.1,127.7 1089.3,129.2 1089.5,130.8 1089.8,132.4 1090.0,133.9 1090.1,135.5 1090.3,137.0 1090.5,138.6 1090.7,140.1 1090.9,141.6 1091.0,143.1 1091.2,144.7 1091.4,146.2 1091.5,147.7 1091.7,149.2 1091.9,150.7 1092.0,152.2 1092.2,153.7 1092.4,155.3 1092.5,156.8 1092.7,158.3 1092.8,159.7 1093.0,161.2 1093.2,162.7 1093.3,164.2 1093.5,165.7 1093.6,167.2 1093.8,168.7 1094.0,170.1 1094.1,171.6 1094.3,173.1 1094.4,174.6 1094.6,176.0 1094.7,177.5 1094.9,178.9 1095.0,180.4 1095.2,181.9 1095.4,183.3 1095.5,184.7 1095.7,186.2 1095.8,187.6 1096.0,189.1 1096.1,190.5 1096.3,192.0 1096.4,193.4 1096.6,194.8 1096.7,196.2 1096.9,197.7 1097.0,199.1 1097.2,200.5 1097.3,201.9 1097.5,203.4 1097.6,204.8 1097.8,206.2 1097.9,207.6 1098.1,209.0 1098.2,210.4 1098.4,211.8 1098.5,213.2 1098.7,214.6 1098.8,216.0 1099.0,217.4 1099.1,218.8 1099.3,220.2 1099.4,221.6 1099.6,223.0 1099.7,224.4 1099.9,225.8 1100.0,227.2 1100.2,228.6 1100.3,230.0 1100.5,231.3 1100.6,232.7 1100.8,234.1 1100.9,235.5 1101.1,236.9 1101.2,238.2 1101.4,239.6 1101.5,241.0 1101.7,242.4 1101.8,243.7 1102.0,245.1 1102.1,246.5 1102.3,247.9 1102.4,249.2 1102.6,250.6 1102.8,252.0 1102.9,253.3 1103.1,254.7 1103.2,256.1 1103.4,257.4 1103.6,258.8 1103.7,260.2 1103.9,261.5 1104.1,262.9 1104.3,264.3 1104.4,265.6 1104.6,267.0 1104.8,268.3 1105.0,269.7 1105.2,271.1 1105.4,272.4 1105.5,273.8 1105.7,275.1 1105.9,276.5 1106.1,277.8 1106.3,279.2 1106.5,280.5 1106.7,281.9 1107.0,283.2 1107.2,284.6 1107.4,286.0 1107.6,287.3 1107.8,288.6 1108.1,290.0 1108.3,291.3 1108.5,292.7 1108.8,294.0 1109.0,295.4 1109.3,296.7 1109.5,298.1 1109.8,299.4 1110.0,300.8 1110.3,302.1 1110.6,303.4 1110.8,304.8 1111.1,306.1 1111.4,307.4 1111.7,308.8 1112.0,310.1 1112.3,311.4 1112.6,312.8 1113.0,314.1 1113.3,315.4 1113.7,316.7 1114.0,318.1 1114.4,319.4 1114.8,320.7 1115.2,322.0 1115.6,323.3 1116.0,324.6 1116.5,325.9 1117.0,327.2 1117.4,328.5 1117.9,329.7 1118.4,331.0 1119.0,332.3 1119.5,333.5 1120.1,334.8 1120.6,336.0 1121.2,337.3 1121.8,338.5 1122.4,339.7 1123.1,340.9 1123.7,342.1 1124.4,343.3 1125.1,344.4 1125.8,345.6 1126.5,346.7 1127.2,347.9 1128.0,349.0 1128.7,350.1 1129.5,351.2 1130.3,352.3 1131.1,353.3 1132.0,354.4 1132.8,355.4 1133.7,356.4 1134.6,357.4 1135.5,358.4 1136.4,359.4 1137.3,360.3 1138.3,361.2 1139.3,362.1 1140.2,363.0 1141.2,363.9 1142.3,364.8 1143.3,365.6 1144.3,366.4 1145.4,367.2 1146.5,368.0 1147.6,368.8 1148.7,369.5 1149.8,370.2 1150.9,371.0 1152.0,371.7 1153.2,372.3 1154.4,373.0 1155.5,373.6 1156.7,374.2 1157.9,374.8 1159.1,375.4 1160.3,376.0 1161.5,376.5 1162.7,377.1 1164.0,377.6 1165.2,378.1 1166.4,378.5 1167.7,379.0 1169.0,379.4 1170.2,379.8 1171.5,380.2 1172.8,380.6 1174.0,381.0 1175.3,381.3 1176.6,381.6 1177.9,381.9 1179.2,382.2 1180.5,382.5 1181.8,382.8 1183.1,383.0 1184.4,383.3 1185.7,383.5 1187.0,383.7 1188.3,383.9 1189.7,384.1 1191.0,384.3 1192.3,384.5 1193.6,384.7 1194.9,384.8 1196.3,385.0 1197.6,385.1 1198.9,385.3 1200.3,385.4 1201.6,385.5 1202.9,385.6 1204.2,385.8 1205.6,385.9 1206.9,386.0 1208.2,386.1 1209.6,386.2 1210.9,386.3 1212.2,386.4 1213.6,386.5 1214.9,386.6 1216.2,386.7 1217.5,386.8 1218.9,386.9 1220.2,387.0 1221.5,387.1 1222.8,387.2 1224.2,387.3 1225.5,387.4 1226.8,387.5 1228.1,387.6 1229.5,387.7 1230.8,387.8 1232.1,387.9 1233.4,388.0 1234.7,388.1 1236.1,388.2 1237.4,388.2 1238.7,388.3 1240.0,388.4 1241.4,388.5 1242.7,388.6 1244.0,388.7 1245.3,388.7 1246.7,388.8 1248.0,388.9 1249.3,389.0 1250.6,389.0 1252.0,389.1 1253.3,389.2 1254.6,389.3 1255.9,389.3 1257.3,389.4 1258.6,389.5 1259.9,389.5 1261.2,389.6 1262.6,389.7 1263.9,389.7 1265.2,389.8 1266.5,389.9 1267.9,389.9 1269.2,390.0 1270.5,390.1 1271.8,390.1 1273.2,390.2 1274.5,390.2 1275.8,390.3 1277.1,390.4 1278.5,390.4 1279.8,390.5 1281.1,390.5 1282.5,390.6 1283.8,390.6 1285.1,390.7 1286.4,390.7 1287.8,390.8 1289.1,390.8 1290.4,390.9 1291.7,390.9 1293.1,391.0 1294.4,391.0 1295.7,391.1 1297.1,391.1 1298.4,391.2 1299.7,391.2 1301.0,391.3 1302.4,391.3 1303.7,391.4 1305.0,391.4 1306.4,391.5 1307.7,391.5 1309.0,391.6 1310.3,391.6 1311.7,391.7 1313.0,391.7 1314.3,391.7 1315.6,391.8 1317.0,391.8 1318.3,391.9 1319.6,391.9 1321.0,391.9 1322.3,392.0 1323.6,392.0 1324.9,392.1 1326.3,392.1 1327.6,392.1 1328.9,392.2 1330.3,392.2 1331.6,392.3 1332.9,392.3 1334.2,392.3 1335.6,392.4 1336.9,392.4 1338.2,392.4 1339.5,392.5 1340.9,392.5 1342.2,392.6 1343.5,392.6 1344.9,392.6 1346.2,392.7 1347.5,392.7 1348.8,392.7 1350.2,392.8 1351.5,392.8 1352.8,392.8 1354.2,392.9 1355.5,392.9 1356.8,392.9 1358.1,393.0 1359.5,393.0 1360.8,393.0 1362.1,393.0 1363.5,393.1 1364.8,393.1 1366.1,393.1 1367.4,393.2 1368.8,393.2 1370.1,393.2 1371.4,393.3 1372.7,393.3 1374.1,393.3 1375.4,393.3 1376.7,393.4 1378.1,393.4 1379.4,393.4 1380.7,393.4 1382.0,393.5 1383.4,393.5 1384.7,393.5 1386.0,393.5 1387.4,393.6 1388.7,393.6 1390.0,393.6 1391.3,393.6 1392.7,393.7 1394.0,393.7 1395.3,393.7 1396.7,393.7 1398.0,393.8 1399.3,393.8 1400.6,393.8 1402.0,393.8 1403.3,393.8 1404.6,393.9 1406.0,393.9 1407.3,393.9 1408.6,393.9 1409.9,394.0 1411.3,394.0 1412.6,394.0 1413.9,394.0 1415.2,394.0 1416.6,394.1 1417.9,394.1 1419.2,394.1 1420.6,394.1 1421.9,394.1 1423.2,394.2 1424.5,394.2 1425.9,394.2 1427.2,394.2 1428.5,394.2 1429.9,394.2 1431.2,394.3 1432.5,394.3 1433.8,394.3 1435.2,394.3 1436.5,394.3 1437.8,394.4 1439.2,394.4 1440.5,394.4 1441.8,394.4 1443.1,394.4 1444.5,394.4 1445.8,394.5 1447.1,394.5 1448.5,394.5 1449.8,394.5 1451.1,394.5 1452.4,394.5 1453.8,394.6 1455.1,394.6 1456.4,394.6 1457.8,394.6 1459.1,394.6 1460.4,394.6 1461.7,394.6 1463.1,394.7 1464.4,394.7 1465.7,394.7 1467.0,394.7 1468.4,394.7 1469.7,394.7 1471.0,394.7 1472.4,394.8 1473.7,394.8 1475.0,394.8 1476.3,394.8 1477.7,394.8 1479.0,394.8 1480.3,394.8 1481.7,394.8 1483.0,394.9 1484.3,394.9 1485.6,394.9 1487.0,394.9 1488.3,394.9 1489.6,394.9 1491.0,394.9 1492.3,395.0 1493.6,395.0 1494.9,395.0 1496.3,395.0 1497.6,395.0 1498.9,395.0 1500.3,395.0 1501.6,395.0 1502.9,395.1 1504.2,395.1 1505.6,395.1 1506.9,395.1 1508.2,395.1 1509.6,395.1 1510.9,395.1 1512.2,395.1 1513.5,395.2 1514.9,395.2 1516.2,395.2 1517.5,395.2 1518.9,395.2 1520.2,395.2 1521.5,395.2 1522.8,395.2 1524.2,395.3 1525.5,395.3 1526.8,395.3 1528.1,395.3 1529.5,395.3 1530.8,395.3 1532.1,395.3 1533.5,395.3 1534.8,395.4 1536.1,395.4 1537.4,395.4 1538.8,395.4 1540.1,395.4 1541.4,395.4 1542.8,395.4 1544.1,395.4 1545.4,395.5 1546.7,395.5 1548.1,395.5 1549.4,395.5"/>
<polyline stroke="#48a976" points="564.9,394.5 566.5,394.5 568.1,394.5 569.7,394.5 571.4,394.5 573.0,394.5 574.6,394.5 576.2,394.5 577.8,394.5 579.4,394.4 581.1,394.4 582.7,394.4 584.3,394.4 585.9,394.4 587.5,394.4 589.1,394.4 590.7,394.4 592.4,394.4 594.0,394.4 595.6,394.4 597.2,394.4 598.8,394.3 600.4,394.3 602.1,394.3 603.7,394.3 605.3,394.3 606.9,394.3 608.5,394.3 610.1,394.3 611.8,394.3 613.4,394.3 615.0,394.2 616.6,394.2 618.2,394.2 619.8,394.2 621.5,394.2 623.1,394.2 624.7,394.2 626.3,394.2 627.9,394.1 629.5,394.1 631.2,394.1 632.8,394.1 634.4,394.1 636.0,394.1 637.6,394.1 639.2,394.0 640.9,394.0 642.5,394.0 644.1,394.0 645.7,394.0 647.3,394.0 648.9,394.0 650.6,393.9 652.2,393.9 653.8,393.9 655.4,393.9 657.0,393.9 658.7,393.9 660.3,393.9 661.9,393.8 663.5,393.8 665.1,393.8 666.7,393.8 668.4,393.8 670.0,393.8 671.6,393.7 673.2,393.7 674.8,393.7 676.4,393.7 678.1,393.7 679.7,393.7 681.3,393.6 682.9,393.6 684.5,393.6 686.2,393.6 687.8,393.6 689.4,393.6 691.0,393.6 692.6,393.5 694.2,393.5 695.9,393.5 697.5,393.5 699.1,393.5 700.7,393.5 702.3,393.4 703.9,393.4 705.6,393.4 707.2,393.4 708.8,393.4 710.4,393.4 712.0,393.3 713.7,393.3 715.3,393.3 716.9,393.3 718.5,393.3 720.1,393.3 721.7,393.2 723.4,393.2 725.0,393.2 726.6,393.2 728.2,393.2 729.8,393.2 731.4,393.1 733.1,393.1 734.7,393.1 736.3,393.1 737.9,393.1 739.5,393.1 741.2,393.0 742.8,393.0 744.4,393.0 746.0,393.0 747.6,393.0 749.2,393.0 750.9,393.0 752.5,392.9 754.1,392.9 755.7,392.9 757.3,392.9 758.9,392.9 760.6,392.9 762.2,392.9 763.8,392.8 765.4,392.8 767.0,392.8 768.6,392.8 770.3,392.8 771.9,392.8 773.5,392.8 775.1,392.7 776.7,392.7 778.3,392.7 780.0,392.7 781.6,392.7 783.2,392.7 784.8,392.7 786.4,392.7 788.0,392.6 789.7,392.6 791.3,392.6 792.9,392.6 794.5,392.6 796.1,392.6 797.7,392.6 799.4,392.6 801.0,392.6 802.6,392.6 804.2,392.5 805.8,392.5 807.4,392.5 809.0,392.5 810.7,392.5 812.3,392.5 813.9,392.5 815.5,392.5 817.1,392.5 818.7,392.5 820.4,392.5 822.0,392.4 823.6,392.4 825.2,392.4 826.8,392.4 828.4,392.4 830.0,392.4 831.7,392.4 833.3,392.4 834.9,392.4 836.5,392.4 838.1,392.4 839.7,392.4 841.3,392.4 843.0,392.4 844.6,392.4 846.2,392.4 847.8,392.4 849.4,392.4 851.0,392.4 852.6,392.4 854.3,392.4 855.9,392.4 857.5,392.4 859.1,392.4 860.7,392.4 862.3,392.4 863.9,392.4 865.5,392.4 867.2,392.4 868.8,392.4 870.4,392.4 872.0,392.4 873.6,392.4 875.2,392.4 876.8,392.5 878.5,392.5 880.1,392.5 881.7,392.6 883.3,392.6 884.9,392.6 886.5,392.7 888.1,392.7 889.8,392.8 891.4,392.8 893.0,392.9 894.6,393.0 896.2,393.1 897.8,393.1 899.4,393.2 901.1,393.3 902.7,393.4 904.3,393.5 905.9,393.7 907.5,393.8 909.2,393.9 910.8,394.1 912.4,394.2 914.0,394.4 915.6,394.5 917.3,394.7 918.9,394.9 920.5,395.1 922.1,395.3 923.7,395.5 925.4,395.7 927.0,395.9 928.6,396.2 930.2,396.4 931.9,396.7 933.5,397.0 935.1,397.3 936.7,397.6 938.3,397.9 939.9,398.3 941.5,398.7 943.1,399.1 944.6,399.5 946.2,399.9 947.7,400.4 949.3,400.8 950.8,401.3 952.3,401.9 953.8,402.4 955.3,403.0 956.8,403.7 958.2,404.3 959.6,405.0 961.1,405.7 962.4,406.4 963.8,407.2 965.2,408.1 966.5,408.9 967.8,409.8 969.1,410.7 970.4,411.7 971.6,412.7 972.8,413.8 974.0,414.8 975.1,416.0 976.3,417.1 977.4,418.3 978.4,419.5 979.4,420.8 980.4,422.1 981.4,423.4 982.3,424.7 983.2,426.1 984.1,427.5 984.9,428.9 985.7,430.3 986.5,431.7 987.2,433.2 987.8,434.7 988.5,436.2 989.1,437.7 989.6,439.2 990.2,440.7 990.7,442.3 991.1,443.8 991.6,445.4 992.0,446.9 992.5,448.5 992.9,450.1 993.3,451.7 993.7,453.2 994.0,454.8 994.4,456.4 994.8,458.0 995.2,459.5 995.6,461.1 995.9,462.7 996.3,464.3 996.6,465.9 997.0,467.4 997.3,469.0 997.7,470.6 998.0,472.2 998.3,473.8 998.7,475.4 999.0,476.9 999.3,478.5 999.6,480.1 999.9,481.7 1000.2,483.3 1000.5,484.9 1000.8,486.5 1001.1,488.1 1001.4,489.7 1001.7,491.2 1002.0,492.8 1002.3,494.4 1002.5,496.0 1002.8,497.6 1003.1,499.2 1003.3,500.8 1003.6,502.4 1003.8,504.0 1004.1,505.6 1004.3,507.2 1004.6,508.8 1004.8,510.4 1005.1,512.0 1005.3,513.6 1005.5,515.2 1005.7,516.8 1006.0,518.4 1006.2,520.0 1006.4,521.6 1006.6,523.2 1006.8,524.8 1007.0,526.4 1007.2,528.0 1007.4,529.6 1007.6,531.2 1007.8,532.8 1008.0,534.4 1008.2,536.0 1008.4,537.6 1008.6,539.2 1008.8,540.8 1009.0,542.4 1009.1,544.0 1009.3,545.6 1009.5,547.2 1009.7,548.8 1009.8,550.5 1010.0,552.1 1010.2,553.7 1010.3,555.3 1010.5,556.9 1010.7,558.5 1010.8,560.1 1011.0,561.7 1011.1,563.3 1011.3,564.9 1011.4,566.5 1011.6,568.1 1011.7,569.8 1011.9,571.4 1012.0,573.0 1012.2,574.6 1012.3,576.2 1012.4,577.8 1012.6,579.4 1012.7,581.0 1012.8,582.6 1013.0,584.2 1013.1,585.9 1013.2,587.5 1013.4,589.1 1013.5,590.7 1013.6,592.3 1013.7,593.9 1013.9,595.5 1014.0,597.1 1014.1,598.8 1014.2,600.4 1014.3,602.0 1014.5,603.6 1014.6,605.2 1014.7,606.8 1014.8,608.4 1014.9,610.0 1015.0,611.7 1015.1,613.3 1015.2,614.9 1015.4,616.5 1015.5,618.1 1015.6,619.7 1015.7,621.3 1015.8,623.0 1015.9,624.6 1016.0,626.2 1016.1,627.8 1016.2,629.4 1016.3,631.0 1016.4,632.6 1016.5,634.3 1016.6,635.9 1016.7,637.5 1016.8,639.1 1016.9,640.7 1017.0,642.3 1017.1,643.9 1017.2,645.6 1017.3,647.2 1017.4,648.8 1017.5,650.4 1017.6,652.0 1017.7,653.6 1017.8,655.2 1017.9,656.9 1018.0,658.5 1018.1,660.1 1018.2,661.7 1018.3,663.3 1018.4,664.9 1018.5,666.5 1018.6,668.2 1018.7,669.8 1018.8,671.4 1018.9,673.0 1019.0,674.6 1019.1,676.2 1019.2,677.8 1019.3,679.4 1019.4,681.1 1019.6,682.7 1019.7,684.3 1019.8,685.9 1019.9,687.5 1020.0,689.1 1020.1,690.7 1020.2,692.4 1020.3,694.0 1020.4,695.6 1020.5,697.2 1020.6,698.8 1020.7,700.4 1020.8,702.0 1021.0,703.6 1021.1,705.3 1021.2,706.9 1021.3,708.5 1021.4,710.1 1021.5,711.7 1021.6,713.3 1021.7,714.9 1021.8,716.5 1022.0,718.2 1022.1,719.8 1022.2,721.4 1022.3,723.0 1022.4,724.6 1022.5,726.2 1022.6,727.8 1022.7,729.4 1022.9,731.1 1023.0,732.7 1023.1,734.3 1023.2,735.9 1023.3,737.5 1023.4,739.1 1023.6,740.7 1023.7,742.3 1023.8,744.0 1023.9,745.6 1024.0,747.2 1024.1,748.8 1024.2,750.4 1024.4,752.0 1024.5,753.6 1024.6,755.2 1024.7,756.9 1024.8,758.5 1024.9,760.1 1025.1,761.7 1025.2,763.3 1025.3,764.9 1025.4,766.5 1025.5,768.1 1025.6,769.7 1025.7,771.4 1025.9,773.0 1026.0,774.6 1026.1,776.2 1026.2,777.8 1026.3,779.4 1026.4,781.0 1026.6,782.7 1026.7,784.3 1026.8,785.9 1026.9,787.5 1027.0,789.1 1027.1,790.7 1027.2,792.3 1027.3,793.9 1027.5,795.6 1027.6,797.2 1027.7,798.8 1027.8,800.4 1032.8,797.8 1033.3,795.6 1033.7,793.4 1034.2,791.1 1034.6,788.9 1035.0,786.7 1035.4,784.5 1035.8,782.2 1036.1,780.0 1036.5,777.8 1036.8,775.5 1037.1,773.3 1037.5,771.1 1037.8,768.8 1038.1,766.6 1038.3,764.4 1038.6,762.1 1038.9,759.9 1039.1,757.6 1039.4,755.4 1039.6,753.1 1039.8,750.9 1040.0,748.6 1040.3,746.4 1040.5,744.1 1040.7,741.9 1040.9,739.6 1041.1,737.4 1041.2,735.1 1041.4,732.9 1041.6,730.6 1041.8,728.4 1042.0,726.1 1042.1,723.8 1042.3,721.6 1042.5,719.3 1042.6,717.1 1042.8,714.8 1043.0,712.6 1043.2,710.3 1043.3,708.1 1043.5,705.8 1043.6,703.6 1043.8,701.3 1044.0,699.0 1044.1,696.8 1044.3,694.5 1044.4,692.3 1044.6,690.0 1044.7,687.8 1044.9,685.5 1045.0,683.3 1045.2,681.0 1045.3,678.7 1045.5,676.5 1045.6,674.2 1045.8,672.0 1045.9,669.7 1046.1,667.5 1046.2,665.2 1046.4,662.9 1046.5,660.7 1046.6,658.4 1046.8,656.2 1046.9,653.9 1047.1,651.7 1047.2,649.4 1047.3,647.2 1047.5,644.9 1047.6,642.6 1047.7,640.4 1047.9,638.1 1048.0,635.9 1048.1,633.6 1048.3,631.4 1048.4,629.1 1048.5,626.8 1048.7,624.6 1048.8,622.3 1048.9,620.1 1049.1,617.8 1049.2,615.6 1049.3,613.3 1049.5,611.1 1049.6,608.8 1049.7,606.5 1049.8,604.3 1050.0,602.0 1050.1,599.8 1050.2,597.5 1050.3,595.3 1050.5,593.0 1050.6,590.7 1050.7,588.5 1050.8,586.2 1051.0,584.0 1051.1,581.7 1051.2,579.5 1051.4,577.2 1051.5,574.9 1051.6,572.7 1051.7,570.4 1051.9,568.2 1052.0,565.9 1052.1,563.7 1052.2,561.4 1052.4,559.1 1052.5,556.9 1052.6,554.6 1052.7,552.4 1052.9,550.1 1053.0,547.9 1053.1,545.6 1053.2,543.3 1053.4,541.1 1053.5,538.8 1053.6,536.6 1053.7,534.3 1053.9,532.1 1054.0,529.8 1054.1,527.6 1054.2,525.3 1054.4,523.0 1054.5,520.8 1054.6,518.5 1054.7,516.3 1054.9,514.0 1055.0,511.8 1055.1,509.5 1055.2,507.2 1055.4,505.0 1055.5,502.7 1055.6,500.5 1055.7,498.2 1055.9,496.0 1056.0,493.7 1056.1,491.4 1056.3,489.2 1056.4,486.9 1056.5,484.7 1056.7,482.4 1056.8,480.2 1056.9,477.9 1057.0,475.6 1057.2,473.4 1057.3,471.1 1057.4,468.9 1057.6,466.6 1057.7,464.4 1057.8,462.1 1058.0,459.9 1058.1,457.6 1058.3,455.3 1058.4,453.1 1058.5,450.8 1058.7,448.6 1058.8,446.3 1058.9,444.1 1059.1,441.8 1059.2,439.5 1059.4,437.3 1059.5,435.0 1059.6,432.8 1059.8,430.5 1059.9,428.3 1060.1,426.0 1060.2,423.8 1060.4,421.5 1060.5,419.2 1060.6,417.0 1060.8,414.7 1060.9,412.5 1061.1,410.2 1061.2,408.0 1061.4,405.7 1061.5,403.5 1061.7,401.2 1061.8,398.9 1062.0,396.7 1062.1,394.4 1062.3,392.2 1062.4,389.9 1062.6,387.7 1062.8,385.4 1062.9,383.2 1063.1,380.9 1063.2,378.6 1063.4,376.4 1063.6,374.1 1063.7,371.9 1063.9,369.6 1064.0,367.4 1064.2,365.1 1064.4,362.9 1064.5,360.6 1064.7,358.4 1064.9,356.1 1065.1,353.8 1065.2,351.6 1065.4,349.3 1065.6,347.1 1065.7,344.8 1065.9,342.6 1066.1,340.3 1066.2,338.1 1066.4,335.8 1066.6,333.6 1066.8,331.3 1066.9,329.0 1067.1,326.8 1067.3,324.5 1067.4,322.3 1067.6,320.0 1067.8,317.8 1067.9,315.5 1068.1,313.3 1068.3,311.0 1068.4,308.8 1068.6,306.5 1068.8,304.3 1068.9,302.0 1069.1,299.7 1069.3,297.5 1069.4,295.2 1069.6,293.0 1069.7,290.7 1069.9,288.5 1070.0,286.2 1070.2,284.0 1070.3,281.7 1070.5,279.5 1070.6,277.2 1070.8,274.9 1070.9,272.7 1071.0,270.4 1071.2,268.2 1071.3,265.9 1071.5,263.7 1071.6,261.4 1071.7,259.2 1071.9,256.9 1072.0,254.6 1072.1,252.4 1072.2,250.1 1072.4,247.9 1072.5,245.6 1072.6,243.4 1072.8,241.1 1072.9,238.8 1073.0,236.6 1073.2,234.3 1073.3,232.1 1073.4,229.8 1073.6,227.6 1073.7,225.3 1073.8,223.1 1074.0,220.8 1074.1,218.5 1074.3,216.3 1074.4,214.0 1074.5,211.8 1074.7,209.5 1074.8,207.3 1075.0,205.0 1075.1,202.7 1075.3,200.5 1075.5,198.2 1075.6,196.0 1075.8,193.7 1076.0,191.5 1076.1,189.2 1076.3,187.0 1076.5,184.7 1076.7,182.4 1076.9,180.2 1077.1,177.9 1077.3,175.7 1077.5,173.4 1077.7,171.2 1077.9,168.9 1078.1,166.7 1078.4,164.4 1078.6,162.2 1078.9,159.9 1079.2,157.7 1079.4,155.5 1079.7,153.2 1080.0,151.0 1080.3,148.7 1080.7,146.5 1081.0,144.3 1081.3,142.0 1081.7,139.8 1082.1,137.6 1082.5,135.4 1083.0,133.2 1083.5,131.0 1084.0,128.8 1084.6,126.6 1085.2,124.4 1085.6,125.7 1086.0,126.9 1086.3,128.2 1086.6,129.5 1087.0,130.8 1087.3,132.1 1087.6,133.4 1087.9,134.7 1088.1,135.9 1088.4,137.2 1088.6,138.5 1088.9,139.8 1089.1,141.1 1089.3,142.5 1089.5,143.8 1089.8,145.1 1090.0,146.4 1090.1,147.7 1090.3,149.0 1090.5,150.3 1090.7,151.6 1090.9,152.9 1091.0,154.3 1091.2,155.6 1091.4,156.9 1091.5,158.2 1091.7,159.5 1091.9,160.8 1092.0,162.2 1092.2,163.5 1092.4,164.8 1092.5,166.1 1092.7,167.4 1092.8,168.7 1093.0,170.1 1093.2,171.4 1093.3,172.7 1093.5,174.0 1093.6,175.3 1093.8,176.7 1094.0,178.0 1094.1,179.3 1094.3,180.6 1094.4,181.9 1094.6,183.3 1094.7,184.6 1094.9,185.9 1095.0,187.2 1095.2,188.5 1095.4,189.9 1095.5,191.2 1095.7,192.5 1095.8,193.8 1096.0,195.2 1096.1,196.5 1096.3,197.8 1096.4,199.1 1096.6,200.4 1096.7,201.8 1096.9,203.1 1097.0,204.4 1097.2,205.7 1097.3,207.0 1097.5,208.4 1097.6,209.7 1097.8,211.0 1097.9,212.3 1098.1,213.6 1098.2,215.0 1098.4,216.3 1098.5,217.6 1098.7,218.9 1098.8,220.3 1099.0,221.6 1099.1,222.9 1099.3,224.2 1099.4,225.5 1099.6,226.9 1099.7,228.2 1099.9,229.5 1100.0,230.8 1100.2,232.1 1100.3,233.5 1100.5,234.8 1100.6,236.1 1100.8,237.4 1100.9,238.7 1101.1,240.1 1101.2,241.4 1101.4,242.7 1101.5,244.0 1101.7,245.3 1101.8,246.6 1102.0,248.0 1102.1,249.3 1102.3,250.6 1102.4,251.9 1102.6,253.2 1102.8,254.6 1102.9,255.9 1103.1,257.2 1103.2,258.5 1103.4,259.8 1103.6,261.1 1103.7,262.4 1103.9,263.8 1104.1,265.1 1104.3,266.4 1104.4,267.7 1104.6,269.0 1104.8,270.3 1105.0,271.6 1105.2,273.0 1105.4,274.3 1105.5,275.6 1105.7,276.9 1105.9,278.2 1106.1,279.5 1106.3,280.8 1106.5,282.1 1106.7,283.5 1107.0,284.8 1107.2,286.1 1107.4,287.4 1107.6,288.7 1107.8,290.0 1108.1,291.3 1108.3,292.6 1108.5,293.9 1108.8,295.2 1109.0,296.5 1109.3,297.8 1109.5,299.1 1109.8,300.4 1110.0,301.8 1110.3,303.1 1110.6,304.4 1110.8,305.7 1111.1,307.0 1111.4,308.3 1111.7,309.6 1112.0,310.9 1112.3,312.2 1112.6,313.4 1113.0,314.7 1113.3,316.0 1113.7,317.3 1114.0,318.6 1114.4,319.9 1114.8,321.1 1115.2,322.4 1115.6,323.7 1116.0,324.9 1116.5,326.2 1117.0,327.5 1117.4,328.7 1117.9,330.0 1118.4,331.2 1119.0,332.4 1119.5,333.6 1120.1,334.9 1120.6,336.1 1121.2,337.3 1121.8,338.5 1122.4,339.6 1123.1,340.8 1123.7,342.0 1124.4,343.1 1125.1,344.3 1125.8,345.4 1126.5,346.5 1127.2,347.6 1128.0,348.7 1128.7,349.8 1129.5,350.9 1130.3,351.9 1131.1,353.0 1132.0,354.0 1132.8,355.0 1133.7,356.0 1134.6,357.0 1135.5,357.9 1136.4,358.9 1137.3,359.8 1138.3,360.7 1139.3,361.6 1140.2,362.5 1141.2,363.3 1142.3,364.2 1143.3,365.0 1144.3,365.8 1145.4,366.6 1146.5,367.4 1147.6,368.1 1148.7,368.9 1149.8,369.6 1150.9,370.3 1152.0,371.0 1153.2,371.6 1154.4,372.3 1155.5,372.9 1156.7,373.5 1157.9,374.1 1159.1,374.7 1160.3,375.2 1161.5,375.8 1162.7,376.3 1164.0,376.8 1165.2,377.3 1166.4,377.7 1167.7,378.2 1169.0,378.6 1170.2,379.0 1171.5,379.4 1172.8,379.8 1174.0,380.1 1175.3,380.5 1176.6,380.8 1177.9,381.1 1179.2,381.4 1180.5,381.7 1181.8,381.9 1183.1,382.2 1184.4,382.4 1185.7,382.6 1187.0,382.9 1188.3,383.1 1189.7,383.3 1191.0,383.4 1192.3,383.6 1193.6,383.8 1194.9,383.9 1196.3,384.1 1197.6,384.2 1198.9,384.4 1200.3,384.5 1201.6,384.6 1202.9,384.7 1204.2,384.9 1205.6,385.0 1206.9,385.1 1208.2,385.2 1209.6,385.3 1210.9,385.4 1212.2,385.5 1213.6,385.6 1214.9,385.7 1216.2,385.8 1217.5,385.9 1218.9,386.0 1220.2,386.1 1221.5,386.2 1222.8,386.3 1224.2,386.4 1225.5,386.5 1226.8,386.6 1228.1,386.7 1229.5,386.8 1230.8,386.9 1232.1,387.0 1233.4,387.0 1234.7,387.1 1236.1,387.2 1237.4,387.3 1238.7,387.4 1240.0,387.5 1241.4,387.6 1242.7,387.6 1244.0,387.7 1245.3,387.8 1246.7,387.9 1248.0,387.9 1249.3,388.0 1250.6,388.1 1252.0,388.2 1253.3,388.2 1254.6,388.3 1255.9,388.4 1257.3,388.5 1258.6,388.5 1259.9,388.6 1261.2,388.7 1262.6,388.7 1263.9,388.8 1265.2,388.9 1266.5,388.9 1267.9,389.0 1269.2,389.0 1270.5,389.1 1271.8,389.2 1273.2,389.2 1274.5,389.3 1275.8,389.3 1277.1,389.4 1278.5,389.5 1279.8,389.5 1281.1,389.6 1282.5,389.6 1283.8,389.7 1285.1,389.7 1286.4,389.8 1287.8,389.8 1289.1,389.9 1290.4,389.9 1291.7,390.0 1293.1,390.0 1294.4,390.1 1295.7,390.1 1297.1,390.2 1298.4,390.2 1299.7,390.3 1301.0,390.3 1302.4,390.4 1303.7,390.4 1305.0,390.5 1306.4,390.5 1307.7,390.5 1309.0,390.6 1310.3,390.6 1311.7,390.7 1313.0,390.7 1314.3,390.8 1315.6,390.8 1317.0,390.8 1318.3,390.9 1319.6,390.9 1321.0,391.0 1322.3,391.0 1323.6,391.1 1324.9,391.1 1326.3,391.1 1327.6,391.2 1328.9,391.2 1330.3,391.2 1331.6,391.3 1332.9,391.3 1334.2,391.4 1335.6,391.4 1336.9,391.4 1338.2,391.5 1339.5,391.5 1340.9,391.5 1342.2,391.6 1343.5,391.6 1344.9,391.6 1346.2,391.7 1347.5,391.7 1348.8,391.7 1350.2,391.8 1351.5,391.8 1352.8,391.8 1354.2,391.9 1355.5,391.9 1356.8,391.9 1358.1,392.0 1359.5,392.0 1360.8,392.0 1362.1,392.1 1363.5,392.1 1364.8,392.1 1366.1,392.2 1367.4,392.2 1368.8,392.2 1370.1,392.2 1371.4,392.3 1372.7,392.3 1374.1,392.3 1375.4,392.3 1376.7,392.4 1378.1,392.4 1379.4,392.4 1380.7,392.5 1382.0,392.5 1383.4,392.5 1384.7,392.5 1386.0,392.6 1387.4,392.6 1388.7,392.6 1390.0,392.6 1391.3,392.7 1392.7,392.7 1394.0,392.7 1395.3,392.7 1396.7,392.8 1398.0,392.8 1399.3,392.8 1400.6,392.8 1402.0,392.8 1403.3,392.9 1404.6,392.9 1406.0,392.9 1407.3,392.9 1408.6,392.9 1409.9,393.0 1411.3,393.0 1412.6,393.0 1413.9,393.0 1415.2,393.1 1416.6,393.1 1417.9,393.1 1419.2,393.1 1420.6,393.1 1421.9,393.2 1423.2,393.2 1424.5,393.2 1425.9,393.2 1427.2,393.2 1428.5,393.2 1429.9,393.3 1431.2,393.3 1432.5,393.3 1433.8,393.3 1435.2,393.3 1436.5,393.3 1437.8,393.4 1439.2,393.4 1440.5,393.4 1441.8,393.4 1443.1,393.4 1444.5,393.4 1445.8,393.5 1447.1,393.5 1448.5,393.5 1449.8,393.5 1451.1,393.5 1452.4,393.5 1453.8,393.6 1455.1,393.6 1456.4,393.6 1457.8,393.6 1459.1,393.6 1460.4,393.6 1461.7,393.7 1463.1,393.7 1464.4,393.7 1465.7,393.7 1467.0,393.7 1468.4,393.7 1469.7,393.7 1471.0,393.7 1472.4,393.8 1473.7,393.8 1475.0,393.8 1476.3,393.8 1477.7,393.8 1479.0,393.8 1480.3,393.8 1481.7,393.9 1483.0,393.9 1484.3,393.9 1485.6,393.9 1487.0,393.9 1488.3,393.9 1489.6,393.9 1491.0,394.0 1492.3,394.0 1493.6,394.0 1494.9,394.0 1496.3,394.0 1497.6,394.0 1498.9,394.0 1500.3,394.0 1501.6,394.1 1502.9,394.1 1504.2,394.1 1505.6,394.1 1506.9,394.1 1508.2,394.1 1509.6,394.1 1510.9,394.1 1512.2,394.2 1513.5,394.2 1514.9,394.2 1516.2,394.2 1517.5,394.2 1518.9,394.2 1520.2,394.2 1521.5,394.2 1522.8,394.2 1524.2,394.3 1525.5,394.3 1526.8,394.3 1528.1,394.3 1529.5,394.3 1530.8,394.3 1532.1,394.3 1533.5,394.3 1534.8,394.4 1536.1,394.4 1537.4,394.4 1538.8,394.4 1540.1,394.4 1541.4,394.4 1542.8,394.4 1544.1,394.4 1545.4,394.5 1546.7,394.5 1548.1,394.5 1549.4,394.5"/>
</g>
<path d="M513.8,88.6 H625" stroke="#58595b" stroke-width="4.6"/>
<path d="M513.8,149.6 H625" stroke="#e04a50" stroke-width="4.6"/>
<path d="M513.8,210.3 H625" stroke="#3a6fb6" stroke-width="4.6"/>
<path d="M513.8,271.0 H625" stroke="#48a976" stroke-width="4.6"/>
<text x="646" y="104.3" letter-spacing="0.3" xml:space="preserve">2 mm</text>
<text x="646" y="165.1" letter-spacing="0.3" xml:space="preserve">4 mm</text>
<text x="646" y="225.9" letter-spacing="0.3" xml:space="preserve">6 mm</text>
<text x="646" y="286.7" letter-spacing="0.3" xml:space="preserve">8 mm</text>
<text x="442.5" y="48.5" text-anchor="end" xml:space="preserve">1.0</text>
<text x="442.5" y="220.9" text-anchor="end" xml:space="preserve">0.5</text>
<text x="442.5" y="393.3" text-anchor="end" xml:space="preserve">0</text>
<text x="442.5" y="565.7" text-anchor="end" xml:space="preserve">−0.5</text>
<text x="442.5" y="738.1" text-anchor="end" xml:space="preserve">−1.0</text>
<text x="442.5" y="910.5" text-anchor="end" xml:space="preserve">−1.5</text>
<text x="467" y="962.5" text-anchor="middle" xml:space="preserve">−18</text>
<text x="663.8" y="962.5" text-anchor="middle" xml:space="preserve">−12</text>
<text x="860.6" y="962.5" text-anchor="middle" xml:space="preserve">−6</text>
<text x="1057.4" y="962.5" text-anchor="middle" xml:space="preserve">0</text>
<text x="1254.2" y="962.5" text-anchor="middle" xml:space="preserve">6</text>
<text x="1451" y="962.5" text-anchor="middle" xml:space="preserve">12</text>
<text x="1647.8" y="962.5" text-anchor="middle" xml:space="preserve">18</text>
<text x="1057.5" y="1036.5" text-anchor="middle" letter-spacing="0.3" xml:space="preserve"><tspan dy="2.2">距缺陷中心水平距离</tspan><tspan dy="-2.2">/mm</tspan></text>
<text transform="translate(296,464.5) rotate(-90)" text-anchor="middle" letter-spacing="0.6" xml:space="preserve"><tspan dy="2">磁通密度</tspan><tspan dy="-2"> </tspan><tspan font-style="italic">x</tspan> <tspan dy="2">分量</tspan><tspan dy="-2">/10</tspan><tspan font-size="34" dy="-18.5">−5</tspan><tspan dy="18.5"> T</tspan></text>
<text x="1044.5" y="1143" text-anchor="middle" letter-spacing="0.4" xml:space="preserve"><tspan dy="2.2">（</tspan><tspan dx="2" dy="-2.2">a</tspan><tspan dx="5" dy="2.2">）</tspan><tspan dx="-13">不</tspan>同深度裂纹的磁通密度<tspan dy="-2.2"> </tspan><tspan font-style="italic">x</tspan> <tspan dy="2.2">分量曲线</tspan></text>
<g stroke="#231f20" stroke-width="6.3" fill="none">
<path d="M467.0,1248.7 V2124.7 M467.0,2124.7 H1647.8"/>
<path d="M467.0,1248.7 H483.5"/>
<path d="M467.0,1394.7 H483.5"/>
<path d="M467.0,1540.7 H483.5"/>
<path d="M467.0,1686.7 H483.5"/>
<path d="M467.0,1832.7 H483.5"/>
<path d="M467.0,1978.7 H483.5"/>
<path d="M703.2,2124.7 V2108.2"/>
<path d="M939.3,2124.7 V2108.2"/>
<path d="M1175.5,2124.7 V2108.2"/>
<path d="M1411.6,2124.7 V2108.2"/>
<path d="M1647.8,2124.7 V2108.2"/>
</g>
<polyline fill="none" stroke="#231f20" stroke-width="4" points="703,2110.7 938.7,1352.3 1175.4,1381 1411.5,1461.8"/>
<rect x="688.0" y="2095.7" width="30" height="30" fill="#111"/>
<circle cx="938.7" cy="1352.3" r="16.7" fill="#ee3430"/>
<path d="M1175.4,1363.0 L1190.7,1390.0 H1160.1000000000001 Z" fill="#6cbd45" stroke="#6cbd45" stroke-width="6" stroke-linejoin="round"/>
<path d="M1390.5,1449.9666666666667 H1432.5 L1411.5,1485.4666666666667 Z" fill="#2e5caa"/>
<path d="M515,1304.3 H549 M592,1304.3 H626.2" stroke="#231f20" stroke-width="5"/>
<path d="M515,1365.2 H549 M592,1365.2 H626.2" stroke="#231f20" stroke-width="5"/>
<path d="M515,1425.6 H549 M592,1425.6 H626.2" stroke="#231f20" stroke-width="5"/>
<path d="M515,1486.3 H549 M592,1486.3 H626.2" stroke="#231f20" stroke-width="5"/>
<rect x="556.05" y="1289.55" width="29.5" height="29.5" fill="#111"/>
<circle cx="570.8" cy="1365.2" r="16.7" fill="#ee3430"/>
<path d="M570.7,1402.2 L591.8,1437.8 H549.6 Z" fill="#6cbd45"/>
<path d="M549.6,1474.8 H591.8 L570.7,1510.4 Z" fill="#2e5caa"/>
<text x="649.5" y="1320.7" letter-spacing="0.3" xml:space="preserve">2 mm</text>
<text x="649.5" y="1381.6" letter-spacing="0.3" xml:space="preserve">4 mm</text>
<text x="649.5" y="1442" letter-spacing="0.3" xml:space="preserve">6 mm</text>
<text x="649.5" y="1503" letter-spacing="0.3" xml:space="preserve">8 mm</text>
<text x="442.5" y="1263.7" text-anchor="end" xml:space="preserve">1.969</text>
<text x="442.5" y="1409.7" text-anchor="end" xml:space="preserve">1.968</text>
<text x="442.5" y="1555.7" text-anchor="end" xml:space="preserve">1.967</text>
<text x="442.5" y="1701.7" text-anchor="end" xml:space="preserve">1.966</text>
<text x="442.5" y="1847.7" text-anchor="end" xml:space="preserve">1.965</text>
<text x="442.5" y="1993.7" text-anchor="end" xml:space="preserve">1.964</text>
<text x="442.5" y="2139.7" text-anchor="end" xml:space="preserve">1.963</text>
<text x="467" y="2194" text-anchor="middle" xml:space="preserve">0</text>
<text x="703.2" y="2194" text-anchor="middle" xml:space="preserve">1</text>
<text x="939.3" y="2194" text-anchor="middle" xml:space="preserve">2</text>
<text x="1175.5" y="2194" text-anchor="middle" xml:space="preserve">3</text>
<text x="1411.6" y="2194" text-anchor="middle" xml:space="preserve">4</text>
<text x="1647.8" y="2194" text-anchor="middle" xml:space="preserve">5</text>
<text x="1056" y="2267" text-anchor="middle" xml:space="preserve"><tspan dy="2.2">组别</tspan></text>
<text transform="translate(282.5,1687) rotate(-90)" text-anchor="middle" xml:space="preserve"><tspan dy="2">最大谷峰差</tspan><tspan dy="-2">/10</tspan><tspan font-size="34" dy="-18.5">−5</tspan><tspan dy="18.5"> T</tspan></text>
<text x="1045.5" y="2369.5" text-anchor="middle" letter-spacing="0.45" xml:space="preserve"><tspan dy="2.2">（</tspan><tspan dx="5" dy="-2.2">b</tspan><tspan dx="0.5" dy="2.2">）</tspan><tspan dx="-11">磁</tspan>通密度<tspan dy="-2.2"> </tspan><tspan font-style="italic">x</tspan> <tspan dy="2.2">分量相邻最大谷峰差</tspan></text>
</svg>
</body></html>
